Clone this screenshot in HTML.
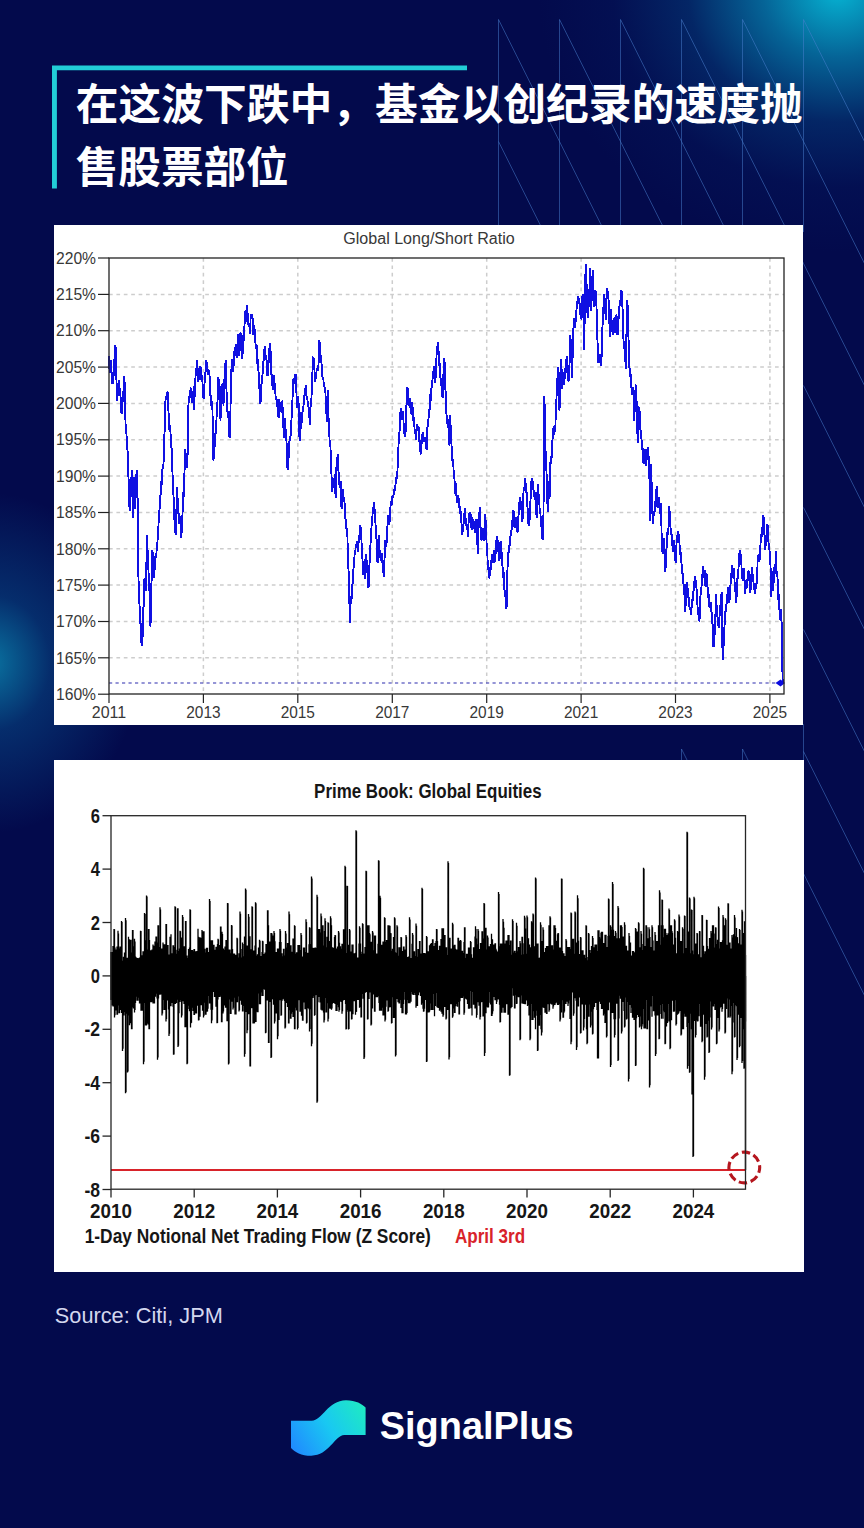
<!DOCTYPE html>
<html><head><meta charset="utf-8"><title>SignalPlus</title>
<style>
html,body{margin:0;padding:0}
body{width:864px;height:1528px;overflow:hidden;position:relative;background:#030a4c;font-family:"Liberation Sans",sans-serif}
.bg{position:absolute;left:0;top:0;width:864px;height:1528px;
background:
 radial-gradient(ellipse 300px 260px at 838px -8px, rgba(6,178,210,1) 0%, rgba(6,135,180,0.72) 25%, rgba(5,80,140,0.4) 50%, rgba(4,40,110,0.18) 75%, rgba(3,10,76,0) 100%),
 radial-gradient(ellipse 150px 170px at -10px 663px, rgba(10,120,165,0.95) 0%, rgba(8,80,140,0.5) 40%, rgba(3,10,76,0) 100%),
 #030a4c;}
.panel{position:absolute;background:#fff}
#p1{left:54px;top:225px;width:749px;height:500px}
#p2{left:54px;top:760px;width:750px;height:512px}
svg{position:absolute;left:0;top:0}

</style></head><body>
<div class="bg"></div>
<svg width="864" height="1528" viewBox="0 0 864 1528"><path d="M498.5 19.5V232M498.5 19.5l61 122M498.5 141.5l61 122M559.5 19.5V232M559.5 19.5l61 122M559.5 141.5l61 122M620.5 19.5V232M620.5 19.5l61 122M620.5 141.5l61 122M681.5 19.5V232M681.5 19.5l61 122M681.5 141.5l61 122M742.5 19.5V232M742.5 19.5l61 122M742.5 141.5l61 122M803.5 19.5V232M803.5 724V762M803.5 19.5l61 122M803.5 141.5l61 122M803.5 263.5l61 122M803.5 385.5l61 122M803.5 507.5l61 122M803.5 629.5l61 122M803.5 751.5l61 122M803.5 873.5l61 122M681.5 749V764M681.5 749l8 16M742.5 749V764M742.5 749l8 16" fill="none" stroke="#4a7fd0" stroke-opacity="0.5" stroke-width="1"/></svg>
<svg width="864" height="230" viewBox="0 0 864 230">
<path d="M52 65.4H467V70.3H56.9V188.5H52Z" fill="#22cdd6"/>
<g fill="#fff" style="font-family:'Liberation Sans','Noto Sans CJK SC',sans-serif;font-weight:bold">
<text x="75.7" y="119.9" font-size="42.8" textLength="727" lengthAdjust="spacingAndGlyphs">在这波下跌中，基金以创纪录的速度抛</text>
<text x="75.7" y="183.3" font-size="42.8" textLength="213" lengthAdjust="spacingAndGlyphs">售股票部位</text>
</g>
</svg>
<div class="panel" id="p1"></div>
<div class="panel" id="p2"></div>
<svg width="864" height="740" viewBox="0 0 864 740" style="font-family:'Liberation Sans',sans-serif">
<line x1="109" x2="784" y1="657.8" y2="657.8" stroke="#cdcdcd" stroke-width="1.5" stroke-dasharray="3.7 3.7"/>
<line x1="109" x2="784" y1="621.5" y2="621.5" stroke="#cdcdcd" stroke-width="1.5" stroke-dasharray="3.7 3.7"/>
<line x1="109" x2="784" y1="585.1" y2="585.1" stroke="#cdcdcd" stroke-width="1.5" stroke-dasharray="3.7 3.7"/>
<line x1="109" x2="784" y1="548.8" y2="548.8" stroke="#cdcdcd" stroke-width="1.5" stroke-dasharray="3.7 3.7"/>
<line x1="109" x2="784" y1="512.5" y2="512.5" stroke="#cdcdcd" stroke-width="1.5" stroke-dasharray="3.7 3.7"/>
<line x1="109" x2="784" y1="476.1" y2="476.1" stroke="#cdcdcd" stroke-width="1.5" stroke-dasharray="3.7 3.7"/>
<line x1="109" x2="784" y1="439.8" y2="439.8" stroke="#cdcdcd" stroke-width="1.5" stroke-dasharray="3.7 3.7"/>
<line x1="109" x2="784" y1="403.4" y2="403.4" stroke="#cdcdcd" stroke-width="1.5" stroke-dasharray="3.7 3.7"/>
<line x1="109" x2="784" y1="367.1" y2="367.1" stroke="#cdcdcd" stroke-width="1.5" stroke-dasharray="3.7 3.7"/>
<line x1="109" x2="784" y1="330.7" y2="330.7" stroke="#cdcdcd" stroke-width="1.5" stroke-dasharray="3.7 3.7"/>
<line x1="109" x2="784" y1="294.4" y2="294.4" stroke="#cdcdcd" stroke-width="1.5" stroke-dasharray="3.7 3.7"/>
<line x1="203.4" x2="203.4" y1="258" y2="694" stroke="#cdcdcd" stroke-width="1.5" stroke-dasharray="3.7 3.7"/>
<line x1="297.8" x2="297.8" y1="258" y2="694" stroke="#cdcdcd" stroke-width="1.5" stroke-dasharray="3.7 3.7"/>
<line x1="392.3" x2="392.3" y1="258" y2="694" stroke="#cdcdcd" stroke-width="1.5" stroke-dasharray="3.7 3.7"/>
<line x1="486.7" x2="486.7" y1="258" y2="694" stroke="#cdcdcd" stroke-width="1.5" stroke-dasharray="3.7 3.7"/>
<line x1="581.1" x2="581.1" y1="258" y2="694" stroke="#cdcdcd" stroke-width="1.5" stroke-dasharray="3.7 3.7"/>
<line x1="675.5" x2="675.5" y1="258" y2="694" stroke="#cdcdcd" stroke-width="1.5" stroke-dasharray="3.7 3.7"/>
<line x1="769.9" x2="769.9" y1="258" y2="694" stroke="#cdcdcd" stroke-width="1.5" stroke-dasharray="3.7 3.7"/>
<line x1="109" x2="776" y1="683" y2="683" stroke="#2c2cae" stroke-width="1.1" stroke-dasharray="3.2 3.3"/>
<path d="M108.6,355.9 108.9,359.4 109.2,366.2 109.4,368.1 109.7,373.2 110.0,368.9 110.3,363.6 110.5,362.8 110.8,360.2 111.1,367.9 111.4,369.5 111.7,375.5 111.9,376.9 112.2,381.3 112.5,384.0 112.8,381.6 113.1,372.4 113.4,377.7 113.7,373.6 114.0,368.9 114.3,365.8 114.6,353.8 114.9,348.9 115.2,346.9 115.5,345.1 115.9,357.6 116.2,373.2 116.5,381.2 116.7,387.1 117.0,396.0 117.3,401.3 117.6,395.5 117.9,395.1 118.1,391.8 118.4,384.7 118.7,388.9 119.0,379.7 119.3,385.0 119.6,390.5 119.9,388.0 120.2,391.0 120.5,396.9 120.8,400.1 121.1,405.2 121.3,412.0 121.6,414.2 121.9,411.8 122.2,406.3 122.5,401.3 122.7,399.5 123.0,402.0 123.3,394.8 123.6,387.5 123.9,386.4 124.1,382.4 124.4,376.4 124.7,386.1 125.0,405.6 125.3,413.7 125.6,425.7 125.9,429.3 126.2,426.3 126.5,435.5 126.8,439.8 127.1,441.0 127.4,449.0 127.6,450.9 127.9,458.3 128.2,461.2 128.4,476.3 128.7,481.2 129.0,490.9 129.3,499.4 129.5,508.6 129.8,511.4 130.1,507.2 130.3,501.0 130.6,490.9 130.9,489.8 131.1,487.0 131.4,478.1 131.7,473.7 132.0,470.4 132.2,482.0 132.5,498.8 132.8,517.9 133.1,505.9 133.5,501.6 133.8,480.4 134.1,476.8 134.4,482.8 134.7,499.2 135.0,509.2 135.3,506.4 135.6,496.0 136.0,480.3 136.3,479.0 136.6,470.0 136.9,478.7 137.1,476.8 137.4,490.2 137.7,504.8 138.0,524.3 138.2,552.4 138.4,574.0 138.7,586.3 139.0,591.8 139.3,599.9 139.6,606.7 139.9,613.2 140.3,623.0 140.6,623.7 140.9,631.4 141.1,636.7 141.4,642.5 141.7,646.3 141.9,637.7 142.2,643.6 142.5,639.0 142.8,632.3 143.0,626.0 143.3,609.6 143.6,605.9 143.8,599.9 144.1,595.5 144.4,579.5 144.7,578.3 145.0,581.0 145.2,588.2 145.5,583.7 145.8,591.3 146.1,582.6 146.4,565.0 146.8,548.7 147.1,535.1 147.4,543.4 147.6,551.7 147.9,556.7 148.3,564.1 148.6,574.5 148.9,575.6 149.2,584.8 149.6,594.0 149.9,609.3 150.2,616.5 150.5,626.9 150.8,610.0 151.1,602.0 151.4,584.8 151.7,578.1 152.0,560.3 152.3,550.3 152.6,552.7 152.9,563.8 153.2,570.8 153.6,578.3 153.9,574.3 154.2,576.9 154.5,565.9 154.8,570.4 155.1,563.2 155.4,556.4 155.7,555.4 156.0,557.5 156.3,556.6 156.6,550.3 156.9,549.9 157.2,544.9 157.5,541.0 157.9,537.3 158.2,532.0 158.4,527.7 158.7,520.0 159.1,514.6 159.4,511.2 159.7,507.3 160.0,500.6 160.4,495.7 160.7,493.4 161.0,487.9 161.3,481.2 161.6,484.6 162.0,475.7 162.3,470.0 162.6,468.2 162.9,464.8 163.2,463.8 163.4,464.8 163.7,459.6 164.0,447.7 164.3,438.0 164.6,430.6 164.9,426.8 165.2,412.1 165.5,399.3 165.9,399.7 166.2,399.9 166.5,394.8 166.8,395.6 167.2,394.5 167.5,391.7 167.8,392.6 168.1,402.7 168.4,409.4 168.7,416.4 169.0,417.4 169.3,429.8 169.6,425.6 170.0,427.2 170.3,429.1 170.6,434.4 170.9,437.8 171.3,442.3 171.5,449.3 171.8,447.7 172.1,463.9 172.4,469.8 172.8,482.3 173.1,482.7 173.4,494.1 173.7,500.4 174.0,510.2 174.2,516.4 174.5,520.0 174.8,528.7 175.0,522.0 175.3,530.2 175.6,535.1 175.9,523.8 176.2,516.7 176.5,508.0 176.9,494.1 177.2,486.7 177.4,500.6 177.7,498.4 178.1,500.1 178.4,513.6 178.7,512.9 179.0,524.3 179.4,522.8 179.7,524.0 180.0,517.4 180.3,515.7 180.6,523.9 180.9,533.5 181.2,538.4 181.5,534.2 181.8,528.7 182.1,524.3 182.3,520.8 182.6,510.5 182.9,498.4 183.2,492.1 183.6,496.6 183.9,478.5 184.2,476.8 184.5,472.8 184.8,461.9 185.0,456.2 185.3,448.8 185.6,453.8 185.8,454.9 186.1,459.0 186.4,459.6 186.7,457.4 187.0,460.3 187.2,468.2 187.5,458.7 187.8,442.0 188.1,433.6 188.3,415.1 188.5,403.4 188.9,396.4 189.2,403.3 189.5,399.4 189.8,394.8 190.2,398.0 190.5,388.4 190.8,389.9 191.1,388.3 191.4,387.8 191.8,397.3 192.1,403.3 192.4,401.3 192.7,394.5 193.1,398.9 193.4,393.2 193.7,386.1 193.9,397.4 194.1,409.9 194.4,394.8 194.7,397.3 195.0,384.0 195.3,379.9 195.7,374.4 196.0,374.0 196.3,368.9 196.6,367.3 196.9,368.1 197.2,360.2 197.5,363.3 197.7,376.9 198.0,379.7 198.4,381.9 198.7,379.1 199.0,371.0 199.3,368.9 199.7,365.9 200.0,371.2 200.3,367.6 200.6,366.7 200.9,371.4 201.2,380.0 201.5,379.7 201.8,380.4 202.1,375.3 202.5,383.2 202.8,386.1 203.1,384.3 203.4,397.5 203.6,399.1 204.0,394.7 204.3,386.3 204.6,382.9 204.9,377.5 205.3,375.9 205.6,369.1 205.9,368.9 206.2,360.2 206.6,362.2 206.9,368.0 207.2,371.6 207.5,368.9 207.9,375.3 208.2,368.8 208.5,375.0 208.8,373.2 209.2,370.2 209.5,376.1 209.8,376.4 210.1,386.1 210.4,396.1 210.7,395.0 211.0,405.6 211.3,404.5 211.6,402.8 212.0,402.2 212.3,401.3 212.6,418.0 212.9,439.5 213.2,457.4 213.5,460.6 213.8,452.1 214.1,451.1 214.4,446.6 214.8,446.7 215.1,439.5 215.4,432.7 215.7,433.6 216.0,426.1 216.3,425.7 216.6,416.4 216.9,405.9 217.2,404.3 217.5,401.3 217.8,396.7 218.0,388.0 218.3,377.5 218.7,379.7 219.0,384.5 219.3,384.5 219.6,386.1 219.9,393.8 220.2,404.0 220.5,420.7 220.8,409.9 221.1,406.5 221.4,394.8 221.7,390.2 222.0,386.4 222.3,384.1 222.7,384.0 222.9,386.1 223.2,398.0 223.5,405.6 223.8,394.7 224.2,392.7 224.5,376.7 224.8,377.5 225.1,372.8 225.4,363.9 225.7,360.2 226.0,363.9 226.3,382.8 226.5,390.5 226.8,396.8 227.1,397.5 227.4,412.1 227.7,411.3 228.1,417.3 228.4,417.0 228.7,420.7 229.0,429.0 229.3,434.7 229.6,438.0 229.8,433.0 230.1,424.7 230.4,416.4 230.6,401.3 230.9,377.5 231.1,375.4 231.4,370.4 231.7,364.5 232.0,358.8 232.4,369.7 232.7,372.1 233.0,368.9 233.3,364.6 233.7,360.8 234.0,365.6 234.3,355.9 234.6,347.4 235.0,352.1 235.3,355.8 235.6,345.1 235.9,344.2 236.3,351.7 236.6,357.8 236.9,353.8 237.2,348.5 237.6,345.9 237.9,342.2 238.2,334.3 238.5,341.9 238.8,355.5 239.1,352.3 239.4,350.7 239.7,346.8 240.0,344.5 240.3,336.6 240.5,331.7 240.8,337.5 241.1,341.3 241.4,351.1 241.7,352.1 242.0,358.4 242.3,357.6 242.6,352.9 242.9,344.7 243.1,342.5 243.4,334.7 243.7,341.2 244.0,327.4 244.3,328.3 244.6,323.7 244.9,318.8 245.2,310.9 245.4,322.2 245.7,320.9 246.0,317.3 246.3,316.1 246.6,305.4 246.9,310.5 247.2,312.6 247.5,316.6 247.8,319.9 248.1,313.4 248.4,324.9 248.8,323.1 249.1,326.3 249.4,325.1 249.7,333.9 250.0,331.7 250.3,332.6 250.6,317.0 250.9,316.6 251.2,313.9 251.6,316.5 251.9,315.6 252.2,314.4 252.5,317.4 252.8,319.9 253.1,327.4 253.4,334.9 253.7,331.9 254.0,325.1 254.4,329.5 254.7,328.7 254.9,342.4 255.2,340.3 255.6,344.7 255.9,348.5 256.2,346.3 256.5,344.7 256.8,348.3 257.1,358.5 257.4,364.1 257.7,359.1 258.0,365.9 258.4,370.4 258.7,372.7 259.0,380.2 259.3,381.9 259.5,390.0 259.8,394.3 260.1,400.9 260.4,404.0 260.7,399.2 261.0,393.9 261.3,385.7 261.6,383.5 261.9,378.9 262.1,377.1 262.4,376.8 262.7,371.5 263.0,368.4 263.3,362.8 263.6,360.6 263.9,359.8 264.2,355.1 264.4,350.1 264.7,345.7 265.0,349.5 265.3,352.2 265.6,355.5 265.9,357.5 266.2,357.9 266.5,359.8 266.7,360.7 267.0,371.2 267.3,374.9 267.6,376.2 267.9,372.0 268.2,368.4 268.5,363.5 268.8,361.3 269.1,355.5 269.4,349.3 269.7,343.3 270.0,346.8 270.3,343.6 270.6,351.9 270.8,366.3 271.1,373.7 271.4,372.8 271.6,381.4 272.0,373.8 272.3,380.1 272.6,389.8 272.9,385.7 273.3,382.0 273.6,376.3 273.9,375.9 274.2,376.0 274.5,382.4 274.8,387.0 275.1,390.0 275.4,392.8 275.7,399.2 276.1,398.8 276.4,398.6 276.7,399.7 277.0,402.8 277.4,407.3 277.7,403.0 278.0,411.2 278.3,416.4 278.6,418.1 278.8,408.0 279.1,404.6 279.4,398.6 279.7,404.3 280.1,404.1 280.4,411.9 280.7,411.6 281.0,410.0 281.3,407.4 281.6,400.8 281.9,401.7 282.2,412.5 282.5,409.8 282.9,407.3 283.2,415.9 283.4,426.3 283.7,435.4 284.0,438.2 284.3,422.7 284.6,418.1 284.9,424.7 285.2,428.9 285.6,429.4 285.9,433.2 286.2,433.7 286.5,442.5 286.8,446.2 287.0,455.3 287.3,465.7 287.6,469.9 287.9,468.9 288.2,462.8 288.5,459.1 288.8,456.2 289.1,449.4 289.3,441.8 289.7,440.9 290.0,438.8 290.3,436.2 290.6,435.4 290.9,432.6 291.2,421.8 291.5,420.2 291.8,412.4 292.1,408.7 292.4,403.0 292.7,392.4 292.9,390.0 293.2,385.7 293.5,378.3 293.8,382.0 294.1,383.5 294.4,383.0 294.7,380.5 295.1,376.1 295.4,373.8 295.7,375.6 296.0,374.2 296.3,381.4 296.5,396.0 296.8,400.4 297.1,407.3 297.4,407.3 297.7,397.2 298.0,396.5 298.3,402.4 298.6,403.4 298.9,415.9 299.1,426.8 299.4,435.6 299.7,440.8 300.0,424.8 300.3,421.2 300.6,411.6 300.9,419.4 301.2,417.3 301.4,428.9 301.7,418.5 302.0,416.7 302.3,415.9 302.6,411.7 302.9,407.0 303.2,409.4 303.5,406.0 303.7,403.1 304.0,398.6 304.3,397.1 304.6,393.8 304.9,387.9 305.2,392.1 305.5,390.3 305.8,385.7 306.0,385.7 306.3,392.7 306.6,398.6 306.9,396.2 307.3,397.3 307.6,401.6 307.9,403.0 308.2,404.4 308.5,407.5 308.8,407.3 309.1,407.8 309.4,414.7 309.6,424.6 309.9,418.7 310.2,412.4 310.5,407.3 310.8,404.1 311.1,402.8 311.4,400.8 311.7,390.4 312.0,387.3 312.2,377.1 312.5,371.7 312.8,363.8 313.1,357.6 313.4,356.8 313.7,359.9 314.0,361.9 314.3,359.4 314.5,371.7 314.8,381.4 315.1,380.8 315.4,375.0 315.7,379.2 316.0,377.7 316.3,375.4 316.7,368.2 317.0,370.6 317.3,369.2 317.6,368.5 318.0,370.5 318.3,368.4 318.6,361.8 318.9,351.0 319.1,342.5 319.4,340.4 319.7,343.5 320.0,344.7 320.3,348.8 320.6,355.7 320.9,357.6 321.2,362.2 321.5,362.4 321.7,368.4 322.0,367.5 322.3,374.4 322.6,379.2 322.9,377.9 323.3,377.7 323.6,382.1 323.9,383.5 324.2,383.5 324.5,387.1 324.9,390.1 325.2,390.0 325.5,393.0 325.8,406.3 326.1,403.0 326.3,408.4 326.6,419.6 326.9,422.4 327.2,412.0 327.5,404.5 327.8,390.0 328.1,392.2 328.4,407.7 328.6,420.2 328.9,426.8 329.2,433.7 329.5,437.5 329.8,447.4 330.1,442.9 330.4,444.0 330.7,454.7 331.0,459.5 331.2,463.4 331.5,475.9 331.8,483.8 332.1,491.5 332.4,486.7 332.7,484.5 333.0,478.5 333.3,477.9 333.5,488.2 333.8,487.2 334.1,479.5 334.4,479.4 334.7,474.2 335.0,489.1 335.3,489.3 335.6,498.0 335.8,488.0 336.1,481.7 336.4,467.7 336.7,464.3 337.1,458.1 337.4,458.1 337.7,453.7 338.0,461.8 338.3,468.3 338.6,472.1 338.9,473.1 339.2,485.0 339.4,482.9 339.8,487.8 340.1,481.8 340.4,482.1 340.7,480.7 341.0,488.6 341.3,504.1 341.6,508.8 341.9,501.6 342.3,501.3 342.6,492.6 342.9,489.3 343.2,489.2 343.5,496.0 343.9,500.2 344.2,498.0 344.5,502.3 344.8,504.4 345.1,510.9 345.3,517.9 345.6,519.4 345.9,523.9 346.2,526.0 346.6,531.1 346.9,530.9 347.2,528.2 347.5,538.0 347.8,558.8 348.1,562.8 348.4,567.1 348.7,574.0 348.9,575.7 349.2,589.4 349.5,607.2 349.8,623.2 350.1,608.8 350.4,611.8 350.7,597.3 351.0,603.3 351.3,596.2 351.5,601.6 351.8,590.9 352.1,584.8 352.4,584.4 352.7,583.9 353.0,574.2 353.3,571.4 353.6,566.9 353.8,561.7 354.1,558.4 354.5,556.4 354.8,551.6 355.1,553.7 355.4,552.0 355.7,544.5 356.1,546.3 356.4,544.9 356.7,541.2 357.0,545.4 357.4,545.8 357.7,546.3 358.0,552.0 358.3,548.2 358.6,541.7 358.9,539.0 359.2,540.7 359.5,534.5 359.9,528.1 360.2,525.0 360.5,526.7 360.8,529.1 361.0,534.7 361.3,536.6 361.6,543.6 361.9,549.8 362.2,555.1 362.5,560.1 362.8,562.8 363.1,567.5 363.3,575.4 363.6,571.4 364.0,568.5 364.3,570.4 364.6,578.8 364.9,569.2 365.3,559.3 365.6,560.0 365.9,558.5 366.2,554.1 366.5,559.0 366.8,564.1 367.1,567.1 367.4,571.4 367.7,578.5 368.1,582.6 368.4,587.6 368.7,585.5 369.0,572.0 369.2,573.6 369.5,564.2 369.8,560.6 370.1,554.1 370.4,545.7 370.7,540.6 371.0,539.0 371.3,536.0 371.5,526.8 371.8,523.9 372.1,521.7 372.4,517.7 372.7,510.9 373.0,510.1 373.3,508.8 373.7,504.9 374.0,503.4 374.3,502.0 374.6,509.8 374.9,513.1 375.1,519.6 375.4,521.4 375.7,528.2 376.0,531.5 376.3,537.9 376.6,539.0 376.9,544.0 377.2,557.0 377.5,562.8 377.8,561.9 378.1,546.9 378.4,542.2 378.7,534.7 379.0,539.2 379.3,549.8 379.6,549.8 379.9,553.5 380.3,558.2 380.6,555.6 380.9,560.6 381.2,560.1 381.6,559.6 381.9,553.3 382.2,563.4 382.5,558.2 382.8,565.8 383.2,561.6 383.5,574.4 383.8,576.6 384.1,568.6 384.4,562.9 384.7,553.9 385.0,550.8 385.3,540.3 385.5,540.9 385.9,540.8 386.2,546.9 386.5,540.7 386.8,543.1 387.2,532.7 387.5,524.6 387.8,518.0 388.1,515.0 388.5,518.3 388.8,524.9 389.1,522.9 389.4,523.7 389.8,519.6 390.1,521.3 390.4,507.4 390.7,504.2 391.1,501.5 391.4,504.9 391.7,504.4 392.0,502.1 392.3,497.1 392.7,495.0 393.0,498.2 393.3,495.6 393.6,495.3 394.0,489.1 394.3,491.7 394.6,491.3 394.9,486.8 395.3,487.4 395.6,482.8 395.9,480.5 396.2,478.6 396.6,476.1 396.9,479.1 397.2,474.0 397.5,470.7 397.8,456.9 398.1,450.2 398.4,448.7 398.7,439.1 399.0,437.5 399.4,433.0 399.7,429.7 399.9,426.4 400.2,415.7 400.5,411.9 400.8,410.4 401.1,408.1 401.4,412.7 401.7,411.1 402.0,420.0 402.2,417.2 402.5,412.0 402.8,411.4 403.1,417.6 403.4,417.7 403.7,426.5 404.0,422.7 404.3,432.0 404.7,435.4 405.0,437.3 405.3,431.2 405.6,431.6 405.8,424.3 406.1,415.5 406.4,406.5 406.7,400.6 407.0,398.2 407.3,387.5 407.6,388.7 407.9,391.9 408.1,399.4 408.4,404.9 408.8,406.1 409.1,401.1 409.4,401.1 409.7,398.4 410.1,399.5 410.4,405.9 410.7,413.6 411.0,411.4 411.4,407.0 411.7,414.9 412.0,402.8 412.3,402.7 412.6,407.1 412.9,411.9 413.2,415.7 413.5,422.3 413.8,418.1 414.2,418.5 414.5,428.6 414.8,431.7 415.1,433.4 415.5,433.9 415.8,433.0 416.1,439.5 416.4,429.3 416.8,427.3 417.1,424.3 417.4,427.9 417.7,426.6 418.0,431.4 418.4,426.5 418.7,427.4 418.9,435.3 419.2,441.6 419.5,435.8 419.8,450.8 420.1,451.3 420.4,448.7 420.7,451.7 421.1,454.4 421.4,445.9 421.7,442.7 422.0,438.6 422.4,434.6 422.7,433.0 423.0,432.4 423.3,435.2 423.7,441.6 424.0,441.6 424.3,440.6 424.6,439.7 425.0,437.8 425.3,437.3 425.6,443.5 425.9,445.4 426.3,446.5 426.6,450.2 426.9,445.2 427.2,435.3 427.4,428.6 427.8,421.6 428.1,427.0 428.4,420.5 428.7,415.7 429.1,409.3 429.4,412.8 429.7,407.1 430.0,402.7 430.4,393.8 430.7,400.5 431.0,392.5 431.3,387.6 431.6,388.4 432.0,384.0 432.3,380.6 432.6,379.0 432.9,370.6 433.3,375.7 433.6,369.4 433.9,366.0 434.2,369.4 434.6,375.8 434.9,379.2 435.2,383.3 435.5,379.1 435.9,369.1 436.2,363.7 436.5,357.4 436.8,346.4 437.2,348.2 437.5,348.0 437.8,341.8 438.1,350.0 438.4,348.1 438.7,353.1 439.0,356.5 439.3,365.9 439.6,363.3 440.0,368.2 440.3,373.8 440.6,380.2 440.9,378.0 441.3,381.1 441.6,389.5 441.9,387.4 442.2,394.8 442.6,398.4 442.8,390.2 443.1,383.0 443.4,374.7 443.7,373.0 444.0,371.8 444.3,358.5 444.6,362.4 444.9,368.8 445.1,376.8 445.4,388.5 445.7,393.5 446.0,407.1 446.3,412.5 446.7,416.5 447.0,417.5 447.3,422.2 447.6,425.0 448.0,419.2 448.3,427.9 448.6,426.5 448.9,427.9 449.2,437.1 449.5,445.9 449.8,433.7 450.0,423.7 450.3,414.6 450.6,426.4 450.9,432.9 451.2,441.6 451.5,443.9 451.8,450.6 452.1,452.4 452.4,460.9 452.7,458.9 453.0,463.3 453.4,465.4 453.7,473.8 454.0,474.9 454.3,474.1 454.6,482.6 455.0,493.0 455.3,494.2 455.6,482.6 455.9,491.3 456.3,493.8 456.6,498.0 456.9,502.6 457.2,502.1 457.6,503.2 457.9,499.0 458.2,495.4 458.5,497.7 458.9,501.3 459.2,507.6 459.5,503.9 459.8,510.7 460.2,509.5 460.5,514.9 460.8,510.8 461.1,519.3 461.4,522.3 461.8,525.5 462.1,532.2 462.4,534.5 462.7,529.4 463.1,526.1 463.4,525.1 463.7,523.7 464.0,519.7 464.4,513.9 464.7,512.4 465.0,508.5 465.3,514.8 465.7,520.0 466.0,525.5 466.3,523.7 466.6,523.8 467.0,527.7 467.3,523.6 467.6,534.5 467.9,536.9 468.3,524.5 468.6,523.0 468.9,519.3 469.2,519.4 469.5,511.6 469.9,516.0 470.2,512.9 470.5,516.6 470.8,514.4 471.2,525.2 471.5,528.0 471.8,529.8 472.1,517.5 472.5,524.2 472.8,519.3 473.1,520.6 473.4,522.0 473.8,522.4 474.1,521.5 474.4,528.5 474.7,526.2 475.1,532.5 475.4,532.3 475.7,527.7 476.0,528.2 476.3,519.9 476.7,519.3 477.0,527.6 477.3,542.3 477.6,546.7 478.0,553.9 478.3,543.3 478.5,530.0 478.8,523.7 479.1,515.7 479.4,513.5 479.7,507.5 480.0,517.4 480.3,522.5 480.6,528.0 480.9,532.4 481.2,533.2 481.5,540.5 481.9,538.8 482.2,534.8 482.5,531.6 482.8,533.6 483.2,528.0 483.5,531.4 483.8,533.5 484.1,535.8 484.4,540.9 484.7,531.1 485.0,525.0 485.3,513.9 485.6,521.2 485.9,522.2 486.2,532.3 486.5,540.9 486.7,547.3 487.0,553.9 487.4,554.4 487.7,564.0 488.0,564.3 488.3,569.0 488.6,570.4 488.9,576.7 489.2,576.6 489.5,578.5 489.8,569.4 490.2,570.7 490.5,566.8 490.8,561.8 491.1,570.2 491.5,558.7 491.8,558.2 492.1,561.1 492.4,553.9 492.8,557.6 493.1,553.9 493.4,563.4 493.7,549.8 494.1,558.9 494.4,562.5 494.7,560.9 495.0,555.7 495.4,550.6 495.7,549.6 496.0,554.0 496.3,544.4 496.6,536.0 497.0,538.8 497.3,544.8 497.6,539.6 497.9,552.3 498.3,551.7 498.6,551.4 498.9,555.4 499.2,560.8 499.6,558.2 499.9,554.8 500.2,546.1 500.5,541.3 500.9,543.1 501.2,550.8 501.5,553.1 501.8,551.7 502.2,558.2 502.4,565.4 502.7,568.5 503.0,571.2 503.3,577.6 503.6,572.4 503.9,584.1 504.2,584.7 504.5,590.3 504.9,591.4 505.2,590.6 505.5,598.1 505.8,591.7 506.1,604.9 506.5,609.0 506.8,599.4 507.0,595.1 507.3,575.5 507.6,565.1 507.9,560.0 508.2,553.9 508.5,551.9 508.8,552.5 509.2,546.0 509.5,545.3 509.8,545.8 510.1,536.2 510.5,536.4 510.8,532.3 511.1,530.0 511.4,531.7 511.8,528.4 512.1,530.1 512.4,519.7 512.7,523.5 513.1,515.8 513.4,509.6 513.7,512.4 514.0,519.5 514.4,526.7 514.7,528.0 515.0,522.1 515.3,522.2 515.6,521.7 516.0,517.2 516.3,522.7 516.6,523.6 516.9,521.6 517.3,532.3 517.6,532.1 517.9,524.7 518.2,519.4 518.6,515.0 518.9,509.8 519.2,507.3 519.5,500.7 519.9,497.7 520.2,497.1 520.5,500.7 520.8,503.9 521.2,508.5 521.5,509.8 521.8,511.2 522.1,520.4 522.5,521.5 522.8,509.1 523.1,507.5 523.4,493.9 523.7,489.1 524.1,487.6 524.4,488.2 524.7,481.7 525.0,478.3 525.4,479.7 525.7,486.0 526.0,490.1 526.3,493.4 526.7,491.8 527.0,499.7 527.3,506.4 527.6,508.4 528.0,514.1 528.2,518.3 528.5,524.5 528.8,526.0 529.1,524.5 529.5,520.9 529.8,515.8 530.1,509.8 530.4,501.8 530.8,495.7 531.1,487.9 531.4,481.7 531.7,481.2 532.1,482.2 532.4,477.7 532.7,483.9 533.0,486.0 533.4,490.3 533.7,490.4 534.0,496.8 534.3,495.7 534.7,496.4 535.0,493.1 535.3,492.5 535.6,505.9 535.9,496.9 536.3,511.3 536.6,518.4 536.9,503.1 537.2,503.0 537.5,490.4 537.8,500.2 538.1,484.3 538.4,494.0 538.8,494.7 539.1,501.3 539.4,503.4 539.7,511.1 540.0,514.1 540.4,509.4 540.7,522.3 541.0,523.4 541.3,524.9 541.7,528.8 542.0,530.5 542.3,538.4 542.6,540.0 542.9,529.8 543.2,523.5 543.5,514.1 543.7,480.0 543.9,449.3 544.2,415.5 544.4,396.4 544.7,411.1 544.9,426.6 545.2,440.7 545.5,450.4 545.8,452.2 546.1,462.3 546.4,468.7 546.7,477.3 547.0,481.7 547.2,492.3 547.5,506.0 547.8,512.0 548.1,508.5 548.4,488.8 548.7,481.7 549.0,481.2 549.3,496.1 549.5,499.0 549.8,491.8 550.1,477.6 550.4,462.3 550.7,463.9 551.1,458.1 551.4,456.7 551.7,458.0 552.0,454.4 552.3,442.0 552.6,438.5 552.9,429.3 553.2,428.8 553.5,437.1 553.9,425.6 554.2,433.6 554.5,426.6 554.8,428.0 555.2,432.1 555.5,424.2 555.7,412.3 556.0,406.2 556.3,404.7 556.6,394.4 556.9,388.9 557.2,378.1 557.5,378.8 557.8,367.3 558.0,374.0 558.3,385.3 558.6,393.2 558.9,398.9 559.2,403.7 559.5,410.5 559.8,400.7 560.1,386.6 560.3,378.1 560.6,366.2 560.9,359.3 561.2,360.8 561.5,366.0 561.8,377.0 562.1,388.9 562.4,383.0 562.6,377.5 562.9,371.6 563.3,376.7 563.6,378.5 563.9,378.7 564.2,384.6 564.6,377.9 564.9,368.9 565.2,371.0 565.5,367.3 565.9,366.2 566.2,363.6 566.5,358.8 566.8,356.5 567.1,362.4 567.4,372.5 567.7,375.9 568.0,377.1 568.3,380.5 568.7,381.1 569.0,380.2 569.3,369.6 569.6,361.9 570.0,344.3 570.3,334.9 570.6,340.2 570.9,345.2 571.1,354.3 571.4,359.6 571.7,375.3 572.0,378.1 572.3,373.1 572.6,356.6 572.9,345.7 573.2,338.2 573.4,330.9 573.7,317.6 574.1,323.0 574.4,327.0 574.7,321.6 575.0,328.4 575.4,322.0 575.7,321.3 576.0,320.2 576.3,311.1 576.6,308.8 577.0,302.9 577.3,301.9 577.6,300.3 577.9,297.6 578.3,296.4 578.6,303.7 578.9,298.2 579.2,298.8 579.6,303.7 579.9,313.4 580.2,309.0 580.5,315.6 580.9,315.5 581.2,315.1 581.5,319.8 581.8,313.2 582.1,309.3 582.4,296.0 582.7,297.4 582.9,298.8 583.2,293.9 583.5,312.9 583.8,333.0 584.1,350.0 584.4,332.1 584.7,316.9 585.0,298.2 585.3,291.0 585.5,270.4 585.8,263.6 586.1,271.3 586.4,280.3 586.7,287.4 587.0,295.6 587.3,306.5 587.6,317.6 587.8,310.9 588.1,305.5 588.4,289.5 588.7,297.4 589.0,302.1 589.3,306.8 589.6,288.7 589.9,287.3 590.1,268.0 590.4,282.6 590.7,296.6 591.0,311.1 591.3,301.7 591.6,299.4 591.9,293.9 592.2,282.3 592.4,278.3 592.7,270.1 593.0,283.9 593.3,294.7 593.6,306.8 593.9,304.5 594.2,297.5 594.6,301.8 594.9,293.9 595.2,292.8 595.5,290.0 595.9,296.5 596.2,298.2 596.5,306.5 596.8,316.4 597.1,330.6 597.4,337.5 597.7,347.7 598.0,351.0 598.4,363.0 598.7,360.4 599.0,363.4 599.3,358.7 599.6,354.3 600.0,356.8 600.3,360.7 600.6,362.8 600.9,366.2 601.3,359.8 601.6,356.2 601.9,347.3 602.2,341.4 602.5,324.8 602.8,324.0 603.1,315.5 603.4,307.1 603.7,306.8 604.1,297.3 604.4,293.9 604.7,300.8 605.0,314.0 605.4,309.8 605.7,319.8 606.0,308.9 606.3,300.7 606.6,298.2 606.9,288.4 607.2,288.2 607.5,293.7 607.9,290.6 608.1,293.2 608.4,293.8 608.7,304.7 609.0,307.9 609.4,322.9 609.7,326.4 610.0,337.1 610.3,328.8 610.7,324.1 611.0,320.5 611.3,309.0 611.6,321.9 612.0,325.3 612.3,328.9 612.6,334.9 612.9,331.2 613.3,332.2 613.6,326.7 613.9,317.6 614.2,320.4 614.5,326.7 614.9,329.9 615.2,332.7 615.5,328.6 615.8,322.4 616.2,315.4 616.5,315.5 616.8,320.2 617.1,323.3 617.4,334.9 617.7,334.6 618.0,328.0 618.3,318.0 618.6,317.6 619.0,318.4 619.3,313.0 619.6,300.0 619.9,302.5 620.3,305.6 620.6,299.2 620.9,300.4 621.2,290.6 621.6,290.6 621.9,300.5 622.2,304.2 622.5,306.8 622.8,317.6 623.1,327.5 623.4,337.1 623.7,345.4 624.0,341.8 624.4,347.5 624.7,356.5 625.0,355.1 625.3,361.1 625.7,364.2 626.0,369.4 626.3,347.6 626.6,324.3 626.9,300.3 627.1,302.6 627.4,302.4 627.7,306.8 628.0,316.9 628.3,333.0 628.6,341.4 628.9,352.5 629.2,359.0 629.4,367.3 629.8,368.4 630.1,376.7 630.4,371.8 630.7,375.9 631.1,382.4 631.4,388.4 631.7,388.0 632.0,393.2 632.4,394.8 632.7,387.4 633.0,393.3 633.3,388.9 633.6,400.3 633.9,405.2 634.2,421.3 634.5,414.8 634.8,401.1 635.1,395.4 635.3,396.0 635.6,385.9 635.9,384.6 636.2,391.2 636.5,399.9 636.8,406.2 637.1,417.3 637.4,431.5 637.7,442.9 637.9,428.8 638.2,420.6 638.5,406.2 638.8,409.1 639.1,412.6 639.4,414.8 639.7,410.7 640.0,428.3 640.4,429.5 640.7,434.2 641.0,430.0 641.3,437.8 641.6,440.6 642.0,440.7 642.3,449.6 642.6,447.9 642.9,462.0 643.3,462.3 643.6,458.5 643.9,463.7 644.2,452.1 644.6,449.3 644.9,455.6 645.2,456.2 645.5,457.8 645.9,465.5 646.2,465.1 646.5,460.4 646.8,458.5 647.2,449.3 647.5,453.3 647.8,449.6 648.1,447.1 648.4,453.7 648.7,457.3 649.0,463.0 649.3,470.9 649.6,484.8 649.9,506.0 650.2,520.6 650.5,503.0 650.8,482.3 651.0,464.5 651.3,474.4 651.6,482.7 651.9,492.5 652.2,503.3 652.5,515.2 652.8,522.8 653.1,523.8 653.4,516.2 653.7,511.3 654.1,514.1 654.4,516.1 654.7,509.1 655.0,509.7 655.4,503.3 655.7,493.6 656.0,493.6 656.3,490.5 656.7,486.1 656.9,488.5 657.2,498.7 657.5,507.6 657.8,507.3 658.2,505.8 658.5,504.8 658.8,496.8 659.1,498.3 659.5,500.9 659.8,511.5 660.1,514.1 660.4,513.6 660.7,507.6 661.0,503.3 661.3,511.3 661.5,530.4 661.8,540.0 662.1,547.3 662.4,551.2 662.7,554.1 663.0,548.4 663.3,547.0 663.7,544.5 664.0,537.9 664.3,544.7 664.6,549.1 665.0,564.9 665.3,572.4 665.6,567.5 665.9,559.5 666.3,555.9 666.6,546.5 666.9,537.4 667.2,532.1 667.5,532.9 667.8,533.3 668.1,535.4 668.5,527.5 668.8,521.2 669.1,506.2 669.4,507.0 669.8,516.2 670.1,511.1 670.4,525.8 670.7,530.5 671.1,534.2 671.4,534.6 671.7,533.8 672.0,545.5 672.4,545.0 672.7,551.6 673.0,547.4 673.3,540.5 673.7,540.2 674.0,543.4 674.3,547.9 674.6,545.1 675.0,552.8 675.3,558.4 675.6,562.9 675.9,555.2 676.3,549.4 676.6,541.9 676.9,535.5 677.2,542.1 677.5,537.0 677.9,534.6 678.2,531.2 678.5,533.8 678.8,534.5 679.2,537.5 679.5,543.5 679.8,550.1 680.1,554.5 680.5,554.8 680.8,552.5 681.1,562.2 681.4,561.3 681.8,568.6 682.1,568.0 682.4,574.3 682.7,572.6 683.1,578.3 683.4,584.0 683.7,585.1 684.0,591.6 684.4,593.7 684.7,598.5 685.0,598.9 685.3,611.5 685.7,603.1 686.0,588.1 686.3,584.0 686.6,588.1 686.9,582.2 687.3,587.2 687.6,588.2 687.9,590.9 688.2,597.0 688.6,597.3 688.9,605.6 689.2,603.4 689.5,607.3 689.9,607.6 690.2,606.7 690.5,610.4 690.8,607.0 691.2,614.8 691.5,609.3 691.8,605.4 692.1,603.4 692.5,598.0 692.8,600.8 693.1,597.0 693.4,591.8 693.8,589.2 694.1,588.8 694.4,582.2 694.7,575.6 695.0,581.1 695.4,575.9 695.7,584.1 696.0,584.0 696.3,587.2 696.7,589.4 697.0,589.1 697.3,603.4 697.6,607.2 698.0,613.9 698.3,613.2 698.6,616.6 698.9,621.1 699.3,620.4 699.6,618.6 699.9,610.7 700.2,600.2 700.6,594.4 700.9,595.0 701.2,587.2 701.5,587.6 701.9,577.8 702.2,580.7 702.5,572.9 702.8,567.8 703.2,566.3 703.5,573.9 703.8,577.5 704.1,577.8 704.4,570.7 704.8,572.6 705.1,570.2 705.4,585.6 705.7,585.6 706.1,583.1 706.4,582.9 706.7,574.3 707.0,574.2 707.4,586.4 707.7,587.2 708.0,596.2 708.3,598.2 708.7,593.7 709.0,597.9 709.3,604.3 709.6,608.3 710.0,605.6 710.3,607.3 710.6,601.8 710.9,609.0 711.3,609.7 711.6,613.2 711.9,612.5 712.2,623.2 712.6,624.5 712.9,630.5 713.2,641.7 713.5,647.2 713.8,644.3 714.2,645.0 714.5,635.8 714.8,632.0 715.1,619.2 715.5,613.2 715.8,604.6 716.1,593.7 716.4,606.0 716.8,604.9 717.1,613.2 717.4,616.2 717.7,620.3 718.1,618.0 718.4,625.4 718.7,626.2 719.0,627.7 719.4,618.5 719.7,613.9 720.0,613.2 720.3,607.5 720.7,601.5 721.0,593.7 721.3,602.7 721.6,591.9 721.9,595.3 722.3,631.5 722.6,660.2 722.9,657.8 723.2,644.9 723.6,645.6 723.9,636.4 724.2,633.2 724.5,626.1 724.9,618.0 725.2,613.2 725.5,611.0 725.8,611.5 726.2,608.3 726.5,602.9 726.8,604.4 727.1,600.2 727.5,593.8 727.8,589.8 728.1,587.2 728.4,594.4 728.8,596.1 729.1,603.4 729.4,600.1 729.7,600.1 730.1,590.5 730.4,586.2 730.7,581.3 731.0,577.5 731.3,575.9 731.7,568.2 732.0,565.4 732.3,573.0 732.6,569.2 733.0,577.5 733.3,574.7 733.6,567.8 733.9,571.0 734.3,574.9 734.6,582.4 734.9,592.0 735.2,587.1 735.6,593.7 735.9,602.7 736.2,600.2 736.5,597.5 736.9,595.3 737.2,585.6 737.5,577.0 737.8,578.8 738.2,569.4 738.5,569.3 738.8,559.3 739.1,554.8 739.5,552.8 739.8,559.7 740.1,550.0 740.4,553.8 740.7,555.0 741.1,559.7 741.4,563.0 741.7,572.0 742.0,575.9 742.4,578.6 742.7,579.7 743.0,580.7 743.3,579.9 743.7,567.8 744.0,571.0 744.3,578.0 744.6,580.7 745.0,592.0 745.3,593.7 745.6,586.1 745.9,588.5 746.3,580.7 746.6,588.4 746.9,579.5 747.2,585.6 747.6,579.8 747.9,577.9 748.2,579.1 748.5,570.3 748.8,575.2 749.2,571.0 749.5,571.9 749.8,586.7 750.1,592.1 750.5,593.1 750.8,579.2 751.1,580.7 751.4,575.9 751.8,566.9 752.1,569.4 752.4,575.8 752.7,574.5 753.1,580.7 753.4,581.5 753.7,584.2 754.0,585.6 754.4,590.1 754.7,589.9 755.0,593.7 755.3,591.6 755.7,587.6 756.0,587.2 756.3,586.5 756.6,581.2 757.0,584.0 757.3,575.6 757.6,560.3 757.9,558.1 758.2,555.4 758.6,562.2 758.9,554.8 759.2,556.7 759.5,553.9 759.9,559.7 760.2,554.0 760.5,543.5 760.8,540.2 761.2,533.7 761.5,535.6 761.8,537.0 762.1,533.5 762.5,526.4 762.8,519.2 763.1,518.6 763.4,515.6 763.8,518.4 764.1,521.7 764.4,532.1 764.7,542.5 765.1,544.8 765.4,550.0 765.7,543.0 766.0,535.4 766.4,538.6 766.7,529.2 767.0,537.1 767.3,524.0 767.6,525.6 768.0,534.6 768.3,540.2 768.6,543.6 768.9,545.1 769.3,548.3 769.6,551.2 769.9,551.4 770.2,559.7 770.6,568.6 770.9,590.1 771.2,597.0 771.5,585.8 771.9,582.5 772.2,571.0 772.5,571.9 772.8,583.1 773.2,590.5 773.5,584.3 773.8,579.8 774.1,569.4 774.5,566.8 774.8,573.5 775.1,572.6 775.4,566.6 775.7,555.6 776.1,550.8 776.4,564.9 776.7,575.9 777.0,574.5 777.4,576.5 777.7,580.7 778.0,590.4 778.3,600.2 778.7,594.5 779.0,606.3 779.3,609.9 779.6,609.9 780.0,611.6 780.3,619.6 780.6,613.0 780.9,609.1 781.3,618.5 781.6,622.9 781.9,636.1 782.2,652.0 782.6,682.0" fill="none" stroke="#1010e2" stroke-width="1.9" stroke-linejoin="bevel" shape-rendering="crispEdges"/>
<path d="M775.5 683L780.5 679.6L785 683L780.5 686.4Z" fill="#0a0ae0"/>
<rect x="109" y="258" width="675" height="436" fill="none" stroke="#222" stroke-width="1.3"/>
<line x1="98" x2="109" y1="694.2" y2="694.2" stroke="#222" stroke-width="1.2"/>
<text x="96" y="699.9" font-size="16" fill="#383838" text-anchor="end" textLength="40" lengthAdjust="spacingAndGlyphs">160%</text>
<line x1="98" x2="109" y1="657.8" y2="657.8" stroke="#222" stroke-width="1.2"/>
<text x="96" y="663.5" font-size="16" fill="#383838" text-anchor="end" textLength="40" lengthAdjust="spacingAndGlyphs">165%</text>
<line x1="98" x2="109" y1="621.5" y2="621.5" stroke="#222" stroke-width="1.2"/>
<text x="96" y="627.2" font-size="16" fill="#383838" text-anchor="end" textLength="40" lengthAdjust="spacingAndGlyphs">170%</text>
<line x1="98" x2="109" y1="585.1" y2="585.1" stroke="#222" stroke-width="1.2"/>
<text x="96" y="590.9" font-size="16" fill="#383838" text-anchor="end" textLength="40" lengthAdjust="spacingAndGlyphs">175%</text>
<line x1="98" x2="109" y1="548.8" y2="548.8" stroke="#222" stroke-width="1.2"/>
<text x="96" y="554.5" font-size="16" fill="#383838" text-anchor="end" textLength="40" lengthAdjust="spacingAndGlyphs">180%</text>
<line x1="98" x2="109" y1="512.5" y2="512.5" stroke="#222" stroke-width="1.2"/>
<text x="96" y="518.2" font-size="16" fill="#383838" text-anchor="end" textLength="40" lengthAdjust="spacingAndGlyphs">185%</text>
<line x1="98" x2="109" y1="476.1" y2="476.1" stroke="#222" stroke-width="1.2"/>
<text x="96" y="481.8" font-size="16" fill="#383838" text-anchor="end" textLength="40" lengthAdjust="spacingAndGlyphs">190%</text>
<line x1="98" x2="109" y1="439.8" y2="439.8" stroke="#222" stroke-width="1.2"/>
<text x="96" y="445.4" font-size="16" fill="#383838" text-anchor="end" textLength="40" lengthAdjust="spacingAndGlyphs">195%</text>
<line x1="98" x2="109" y1="403.4" y2="403.4" stroke="#222" stroke-width="1.2"/>
<text x="96" y="409.1" font-size="16" fill="#383838" text-anchor="end" textLength="40" lengthAdjust="spacingAndGlyphs">200%</text>
<line x1="98" x2="109" y1="367.1" y2="367.1" stroke="#222" stroke-width="1.2"/>
<text x="96" y="372.8" font-size="16" fill="#383838" text-anchor="end" textLength="40" lengthAdjust="spacingAndGlyphs">205%</text>
<line x1="98" x2="109" y1="330.7" y2="330.7" stroke="#222" stroke-width="1.2"/>
<text x="96" y="336.4" font-size="16" fill="#383838" text-anchor="end" textLength="40" lengthAdjust="spacingAndGlyphs">210%</text>
<line x1="98" x2="109" y1="294.4" y2="294.4" stroke="#222" stroke-width="1.2"/>
<text x="96" y="300.1" font-size="16" fill="#383838" text-anchor="end" textLength="40" lengthAdjust="spacingAndGlyphs">215%</text>
<line x1="98" x2="109" y1="258.0" y2="258.0" stroke="#222" stroke-width="1.2"/>
<text x="96" y="263.7" font-size="16" fill="#383838" text-anchor="end" textLength="40" lengthAdjust="spacingAndGlyphs">220%</text>
<line x1="109.0" x2="109.0" y1="694" y2="703" stroke="#222" stroke-width="1.2"/>
<text x="109.0" y="718" font-size="16" fill="#383838" text-anchor="middle" textLength="34.3" lengthAdjust="spacingAndGlyphs">2011</text>
<line x1="203.4" x2="203.4" y1="694" y2="703" stroke="#222" stroke-width="1.2"/>
<text x="203.4" y="718" font-size="16" fill="#383838" text-anchor="middle" textLength="34.3" lengthAdjust="spacingAndGlyphs">2013</text>
<line x1="297.8" x2="297.8" y1="694" y2="703" stroke="#222" stroke-width="1.2"/>
<text x="297.8" y="718" font-size="16" fill="#383838" text-anchor="middle" textLength="34.3" lengthAdjust="spacingAndGlyphs">2015</text>
<line x1="392.3" x2="392.3" y1="694" y2="703" stroke="#222" stroke-width="1.2"/>
<text x="392.3" y="718" font-size="16" fill="#383838" text-anchor="middle" textLength="34.3" lengthAdjust="spacingAndGlyphs">2017</text>
<line x1="486.7" x2="486.7" y1="694" y2="703" stroke="#222" stroke-width="1.2"/>
<text x="486.7" y="718" font-size="16" fill="#383838" text-anchor="middle" textLength="34.3" lengthAdjust="spacingAndGlyphs">2019</text>
<line x1="581.1" x2="581.1" y1="694" y2="703" stroke="#222" stroke-width="1.2"/>
<text x="581.1" y="718" font-size="16" fill="#383838" text-anchor="middle" textLength="34.3" lengthAdjust="spacingAndGlyphs">2021</text>
<line x1="675.5" x2="675.5" y1="694" y2="703" stroke="#222" stroke-width="1.2"/>
<text x="675.5" y="718" font-size="16" fill="#383838" text-anchor="middle" textLength="34.3" lengthAdjust="spacingAndGlyphs">2023</text>
<line x1="769.9" x2="769.9" y1="694" y2="703" stroke="#222" stroke-width="1.2"/>
<text x="769.9" y="718" font-size="16" fill="#383838" text-anchor="middle" textLength="34.3" lengthAdjust="spacingAndGlyphs">2025</text>
<text x="429" y="244" font-size="16" fill="#383838" text-anchor="middle" textLength="171.5" lengthAdjust="spacingAndGlyphs">Global Long/Short Ratio</text>
</svg>
<svg width="864" height="1290" viewBox="0 0 864 1290" style="font-family:'Liberation Sans',sans-serif;font-weight:bold">
<path d="M111.0 951.9V1000.0M111.5 951.9V1000.0M112.0 951.9V1005.6M112.5 951.9V1004.4M113.0 946.0V1006.4M113.5 946.0V1006.4M114.0 928.9V1006.4M114.5 929.3V1017.4M115.0 947.6V1015.3M115.5 949.5V1010.6M116.0 949.5V1010.6M116.5 949.5V1010.6M117.0 946.4V1014.7M117.5 946.4V1014.7M118.0 930.8V1005.6M118.5 933.6V1004.9M119.0 948.6V1013.3M119.5 948.6V1013.3M120.0 946.4V1010.0M120.5 946.4V1010.0M121.0 946.4V1010.0M121.5 921.0V1012.9M122.0 922.1V1012.9M122.5 960.8V1050.9M123.0 960.8V1048.7M123.5 956.8V1015.4M124.0 956.8V1015.4M124.5 952.5V1012.0M125.0 952.5V1012.0M125.5 918.0V1093.2M126.0 920.3V1092.2M126.5 958.5V1013.8M127.0 957.7V1001.8M127.5 957.7V1072.5M128.0 958.4V1071.5M128.5 936.7V1015.4M129.0 938.9V1015.4M129.5 958.4V1025.3M130.0 939.8V1023.0M130.5 939.8V1023.3M131.0 939.8V1023.3M131.5 952.6V1029.3M132.0 952.6V1029.3M132.5 929.9V1007.3M133.0 929.9V1007.3M133.5 946.2V1008.6M134.0 946.2V1008.6M134.5 938.7V1012.5M135.0 941.4V1010.0M135.5 956.4V1003.0M136.0 957.4V996.8M136.5 957.4V996.8M137.0 958.1V1000.8M137.5 958.1V1000.8M138.0 958.1V1000.8M138.5 958.5V997.7M139.0 958.5V997.7M139.5 957.4V1003.5M140.0 957.4V1003.5M140.5 930.8V1003.5M141.0 930.9V1010.7M141.5 955.3V1010.7M142.0 955.3V1010.7M142.5 955.3V1010.7M143.0 951.3V1004.5M143.5 951.3V1064.3M144.0 953.1V1061.8M144.5 913.1V1003.1M145.0 914.1V1003.1M145.5 940.3V1025.5M146.0 940.3V1025.5M146.5 895.4V1025.5M147.0 896.6V1024.4M147.5 949.5V1023.3M148.0 949.5V1021.6M148.5 928.9V1024.4M149.0 929.1V1029.3M149.5 940.1V1029.3M150.0 950.3V1002.3M150.5 950.3V1002.3M151.0 950.3V1002.3M151.5 950.3V1002.3M152.0 949.6V1001.7M152.5 949.6V1000.4M153.0 944.6V1003.6M153.5 947.3V1003.6M154.0 945.7V1003.6M154.5 945.7V1003.6M155.0 941.5V996.8M155.5 941.5V996.8M156.0 936.4V993.8M156.5 936.4V993.8M157.0 942.6V998.6M157.5 943.6V1059.7M158.0 925.2V1057.6M158.5 925.2V998.6M159.0 947.0V994.7M159.5 947.0V994.7M160.0 907.2V994.7M160.5 909.5V994.6M161.0 948.4V994.6M161.5 948.4V994.6M162.0 948.6V1015.5M162.5 948.6V1013.6M163.0 942.6V1000.0M163.5 944.2V1000.0M164.0 944.3V1009.9M164.5 944.3V1009.9M165.0 944.3V1009.9M165.5 944.3V1009.9M166.0 924.0V1021.4M166.5 924.1V1018.9M167.0 945.5V997.6M167.5 945.1V1000.4M168.0 945.1V1000.4M168.5 954.4V1009.5M169.0 954.4V1036.1M169.5 954.4V1033.7M170.0 936.7V1006.2M170.5 937.9V1006.2M171.0 934.2V1006.2M171.5 953.3V1003.0M172.0 953.3V1003.0M172.5 953.3V1003.0M173.0 945.3V1006.7M173.5 945.3V1054.8M174.0 947.1V1054.4M174.5 947.1V1004.0M175.0 906.2V1004.0M175.5 907.0V1004.0M176.0 953.8V1002.9M176.5 953.8V1002.9M177.0 949.7V999.8M177.5 908.2V999.8M178.0 908.3V1046.9M178.5 950.9V1045.8M179.0 950.9V1013.2M179.5 948.6V1001.9M180.0 930.8V1001.9M180.5 931.3V1000.2M181.0 937.4V1000.2M181.5 937.4V1017.4M182.0 950.0V1015.4M182.5 915.1V1001.2M183.0 916.9V1001.2M183.5 950.0V1001.2M184.0 946.2V1004.0M184.5 946.2V1004.0M185.0 949.6V1027.2M185.5 921.0V1027.2M186.0 921.1V1027.2M186.5 955.4V1000.8M187.0 955.4V1064.3M187.5 958.0V1063.6M188.0 958.0V1009.0M188.5 949.0V1005.8M189.0 949.0V1005.8M189.5 947.4V1011.3M190.0 909.2V1011.3M190.5 910.1V1027.4M191.0 953.9V1023.3M191.5 950.0V1022.8M192.0 950.0V1007.7M192.5 950.0V1007.7M193.0 951.3V1011.1M193.5 951.3V1011.1M194.0 948.9V1015.1M194.5 948.9V1015.1M195.0 951.3V1013.4M195.5 951.3V1013.4M196.0 951.3V1013.4M196.5 951.3V1013.4M197.0 951.1V1005.7M197.5 951.1V1005.7M198.0 928.8V1003.2M198.5 936.7V1020.4M199.0 938.0V1020.3M199.5 937.2V1016.7M200.0 937.2V1016.7M200.5 937.7V1005.2M201.0 937.7V1005.2M201.5 937.7V1005.2M202.0 929.9V1005.2M202.5 931.5V1010.7M203.0 931.3V1010.7M203.5 931.3V1017.4M204.0 931.3V1015.7M204.5 948.8V1002.7M205.0 948.8V1002.7M205.5 952.5V1014.7M206.0 952.9V1014.7M206.5 947.8V1011.8M207.0 947.8V1011.8M207.5 947.8V1011.5M208.0 952.0V1008.7M208.5 952.0V996.0M209.0 952.0V996.0M209.5 899.0V1003.6M210.0 901.1V1003.6M210.5 941.9V1003.6M211.0 940.3V1009.7M211.5 940.3V1023.3M212.0 940.3V1020.4M212.5 940.3V1009.7M213.0 944.8V991.9M213.5 944.8V991.9M214.0 944.8V991.9M214.5 949.8V997.0M215.0 949.8V997.0M215.5 949.8V997.0M216.0 946.7V1006.8M216.5 946.7V1006.8M217.0 946.7V1023.3M217.5 944.0V1022.9M218.0 938.7V999.6M218.5 939.5V997.1M219.0 944.9V997.1M219.5 944.9V997.1M220.0 944.9V997.1M220.5 926.5V995.7M221.0 926.5V995.7M221.5 943.6V1022.2M222.0 931.8V1022.2M222.5 934.0V1001.6M223.0 948.4V1013.5M223.5 948.4V1011.4M224.0 949.9V1005.5M224.5 949.9V1005.5M225.0 946.6V1005.5M225.5 948.6V1007.8M226.0 939.9V1007.8M226.5 939.9V1007.8M227.0 947.5V1021.2M227.5 902.9V1021.2M228.0 903.3V1021.2M228.5 949.4V1064.6M229.0 949.4V1063.4M229.5 949.4V999.5M230.0 949.4V999.5M230.5 953.3V1013.9M231.0 953.3V1013.9M231.5 924.9V1001.8M232.0 925.5V1001.8M232.5 949.0V1001.8M233.0 953.5V1009.5M233.5 953.5V1007.7M234.0 953.5V997.7M234.5 953.5V997.7M235.0 954.8V1014.4M235.5 954.8V1014.4M236.0 954.8V1014.4M236.5 960.7V1002.3M237.0 937.7V1002.3M237.5 938.6V1002.3M238.0 957.4V996.6M238.5 957.4V996.6M239.0 953.3V1011.5M239.5 953.3V1010.3M240.0 911.6V1000.7M240.5 913.7V1000.7M241.0 949.1V1000.7M241.5 957.6V1004.7M242.0 957.6V1004.7M242.5 942.6V1011.6M243.0 943.9V1011.6M243.5 956.2V1006.0M244.0 956.2V1006.0M244.5 936.5V1056.8M245.0 936.5V1054.0M245.5 888.5V1005.0M246.0 889.7V1011.9M246.5 945.4V1011.9M247.0 945.4V1033.2M247.5 945.4V1030.2M248.0 947.9V1014.3M248.5 914.1V1014.3M249.0 916.7V1014.3M249.5 936.3V1013.5M250.0 936.3V1066.6M250.5 949.2V1066.5M251.0 949.2V1008.0M251.5 949.2V1008.0M252.0 906.2V1008.2M252.5 906.9V1008.2M253.0 950.6V1023.4M253.5 950.6V1023.4M254.0 950.6V1023.4M254.5 950.6V1023.3M255.0 945.6V1021.2M255.5 902.3V1022.0M256.0 903.2V1022.0M256.5 955.7V1011.7M257.0 955.7V1011.7M257.5 954.3V1012.3M258.0 954.3V1012.3M258.5 947.4V993.4M259.0 947.4V993.4M259.5 939.7V1004.3M260.0 940.7V1004.3M260.5 957.6V1004.3M261.0 955.9V992.6M261.5 955.9V992.6M262.0 952.0V996.1M262.5 940.7V996.1M263.0 941.3V996.1M263.5 954.1V989.2M264.0 954.1V989.2M264.5 954.1V989.2M265.0 952.6V989.9M265.5 952.6V1033.2M266.0 943.9V1032.8M266.5 943.9V1000.6M267.0 943.9V1000.6M267.5 910.2V1000.6M268.0 910.3V996.5M268.5 925.2V1043.0M269.0 941.6V1042.9M269.5 941.6V1002.0M270.0 941.6V1002.0M270.5 941.6V1002.0M271.0 933.1V1058.0M271.5 933.1V1057.2M272.0 933.4V999.6M272.5 935.5V998.9M273.0 935.5V998.9M273.5 941.3V1004.8M274.0 931.1V1004.8M274.5 933.0V1023.6M275.0 941.3V1021.4M275.5 952.0V1013.4M276.0 952.0V1013.4M276.5 952.0V1013.4M277.0 952.0V1013.4M277.5 948.4V1039.3M278.0 948.4V1036.3M278.5 948.4V1019.9M279.0 948.4V1019.9M279.5 942.0V1000.3M280.0 929.1V1000.3M280.5 930.8V1000.3M281.0 942.0V1015.7M281.5 953.3V1015.3M282.0 953.3V1001.1M282.5 956.2V999.5M283.0 956.2V999.5M283.5 948.7V998.8M284.0 948.7V998.8M284.5 955.6V1001.1M285.0 955.6V1028.5M285.5 931.1V1027.5M286.0 933.5V1001.1M286.5 947.6V1003.0M287.0 947.6V1003.0M287.5 942.9V1007.0M288.0 942.9V1007.0M288.5 942.9V1023.6M289.0 911.4V1023.5M289.5 914.3V1010.2M290.0 956.4V1010.2M290.5 945.3V1018.7M291.0 945.3V1018.7M291.5 951.8V1013.7M292.0 951.8V1012.1M292.5 951.8V998.4M293.0 938.4V1016.9M293.5 938.4V1016.9M294.0 938.4V1016.9M294.5 925.2V1029.3M295.0 926.1V1029.3M295.5 953.8V1007.8M296.0 953.8V1007.8M296.5 952.3V1010.6M297.0 952.3V1010.6M297.5 952.3V1029.5M298.0 945.1V1028.0M298.5 945.1V1000.2M299.0 945.1V1000.2M299.5 945.1V1000.2M300.0 950.0V1011.8M300.5 950.0V1011.8M301.0 933.1V1011.8M301.5 935.1V1015.7M302.0 956.5V1014.6M302.5 956.5V1020.7M303.0 956.5V1020.7M303.5 947.5V1002.4M304.0 947.5V1002.4M304.5 947.5V1002.4M305.0 952.0V1009.2M305.5 952.0V1009.2M306.0 919.3V1009.2M306.5 922.0V1023.6M307.0 952.7V1022.7M307.5 952.7V1008.3M308.0 952.7V1008.3M308.5 952.7V1008.3M309.0 944.2V1009.3M309.5 927.2V1031.5M310.0 927.8V1029.0M310.5 944.2V1009.3M311.0 944.0V1001.0M311.5 876.4V1046.2M312.0 878.5V1043.7M312.5 947.8V998.0M313.0 947.8V998.0M313.5 948.0V996.3M314.0 948.0V996.3M314.5 948.0V1015.7M315.0 947.4V1014.9M315.5 947.4V995.3M316.0 947.9V995.0M316.5 947.9V995.0M317.0 894.7V1102.7M317.5 896.7V1101.5M318.0 929.8V1002.2M318.5 929.1V996.9M319.0 929.1V996.9M319.5 929.1V996.9M320.0 932.4V1002.6M320.5 932.4V1002.6M321.0 913.4V1009.8M321.5 916.3V1008.0M322.0 925.2V1010.6M322.5 925.2V1010.6M323.0 925.2V1010.6M323.5 945.5V1012.6M324.0 945.5V1022.6M324.5 930.9V1020.3M325.0 918.3V998.0M325.5 920.9V998.0M326.0 947.3V1012.5M326.5 947.3V1012.5M327.0 936.7V1003.2M327.5 936.7V1003.2M328.0 922.2V1021.6M328.5 922.9V1018.7M329.0 940.9V1008.3M329.5 940.9V1008.3M330.0 950.0V1008.7M330.5 916.3V1008.7M331.0 918.2V1002.3M331.5 925.2V1009.8M332.0 947.2V1008.6M332.5 947.2V1003.7M333.0 947.8V1002.9M333.5 947.8V1002.9M334.0 947.8V1002.9M334.5 937.1V1002.8M335.0 935.0V1003.9M335.5 935.3V1001.8M336.0 948.6V1010.9M336.5 948.6V1010.9M337.0 948.6V1010.9M337.5 946.5V1005.0M338.0 946.5V1005.0M338.5 931.1V1007.2M339.0 932.4V1011.8M339.5 942.7V1010.1M340.0 946.2V1001.0M340.5 946.2V1001.0M341.0 948.7V1002.1M341.5 948.7V1002.1M342.0 943.7V1013.7M342.5 943.7V1011.3M343.0 943.7V1000.8M343.5 929.3V1000.0M344.0 929.3V1000.0M344.5 929.3V1000.0M345.0 865.8V1000.0M345.5 866.9V1003.9M346.0 953.1V1029.5M346.5 953.1V1029.0M347.0 885.8V1009.9M347.5 886.0V1009.9M348.0 944.7V1011.7M348.5 944.7V1029.5M349.0 944.7V1029.0M349.5 929.1V1011.5M350.0 930.3V1011.5M350.5 957.0V1011.5M351.0 951.4V1003.7M351.5 951.4V1019.6M352.0 944.4V1019.3M352.5 944.4V1014.2M353.0 944.4V1014.2M353.5 953.3V1001.2M354.0 953.3V1001.2M354.5 953.3V1001.2M355.0 953.3V1001.2M355.5 952.8V1014.7M356.0 830.3V1011.9M356.5 831.3V1011.7M357.0 957.5V999.9M357.5 957.5V999.9M358.0 957.5V999.9M358.5 957.5V999.9M359.0 943.4V994.1M359.5 926.2V1007.8M360.0 927.7V1007.1M360.5 943.4V994.1M361.0 954.1V1017.4M361.5 954.1V1017.4M362.0 951.7V994.1M362.5 923.2V994.1M363.0 924.1V998.8M363.5 954.7V998.8M364.0 953.5V1059.0M364.5 953.5V1057.5M365.0 947.1V992.8M365.5 947.1V992.8M366.0 870.7V992.0M366.5 871.2V992.0M367.0 940.9V992.0M367.5 925.2V1019.6M368.0 925.2V1019.3M368.5 925.2V999.1M369.0 925.2V999.1M369.5 933.1V992.6M370.0 934.3V992.6M370.5 953.3V992.6M371.0 941.8V1025.5M371.5 941.8V1024.6M372.0 941.8V1008.4M372.5 931.1V1008.4M373.0 932.5V994.6M373.5 950.3V994.6M374.0 950.3V994.6M374.5 935.6V1011.8M375.0 935.6V1011.7M375.5 935.6V997.2M376.0 953.5V997.3M376.5 953.5V997.3M377.0 953.5V997.3M377.5 953.5V997.3M378.0 943.8V996.0M378.5 860.3V994.3M379.0 860.8V1003.1M379.5 949.5V1010.8M380.0 895.7V1010.8M380.5 897.7V1010.8M381.0 949.5V1010.8M381.5 944.8V1010.8M382.0 944.8V1007.8M382.5 944.8V1007.4M383.0 941.6V1015.4M383.5 941.6V1015.4M384.0 941.6V1015.4M384.5 917.3V998.6M385.0 918.0V1021.6M385.5 942.1V1019.7M386.0 942.1V1006.7M386.5 939.9V1000.6M387.0 939.9V1000.6M387.5 939.9V1000.6M388.0 925.2V1011.8M388.5 925.2V1011.0M389.0 925.2V1007.5M389.5 925.7V1007.2M390.0 925.7V1007.2M390.5 933.1V1007.2M391.0 933.3V1004.2M391.5 950.8V1023.6M392.0 950.8V1022.9M392.5 948.7V997.2M393.0 948.7V997.2M393.5 936.9V1017.9M394.0 936.9V1017.9M394.5 917.3V1017.9M395.0 918.3V999.4M395.5 952.3V1056.6M396.0 953.0V1055.2M396.5 953.0V999.1M397.0 925.2V999.1M397.5 926.5V999.1M398.0 955.7V1002.2M398.5 955.7V1002.2M399.0 947.2V1003.5M399.5 947.2V1003.5M400.0 947.2V1000.0M400.5 950.2V998.9M401.0 937.0V1008.0M401.5 937.5V1008.0M402.0 951.0V1013.3M402.5 951.0V1013.3M403.0 951.0V1013.3M403.5 946.5V1004.0M404.0 946.5V992.1M404.5 949.4V991.3M405.0 949.4V999.8M405.5 956.7V1014.4M406.0 935.0V1014.4M406.5 936.8V1014.4M407.0 956.9V1013.1M407.5 956.9V1000.0M408.0 956.9V999.8M408.5 956.4V1003.3M409.0 956.4V1003.3M409.5 917.3V1003.3M410.0 919.4V1003.3M410.5 957.9V1001.7M411.0 957.9V1001.7M411.5 957.9V992.1M412.0 943.7V991.9M412.5 933.1V994.0M413.0 934.7V995.0M413.5 956.3V995.0M414.0 951.2V992.9M414.5 951.2V992.9M415.0 955.9V994.9M415.5 955.9V994.9M416.0 923.6V1007.8M416.5 925.7V1005.2M417.0 956.8V1006.0M417.5 956.8V1006.0M418.0 948.9V995.2M418.5 948.9V995.2M419.0 953.0V992.4M419.5 940.9V992.4M420.0 941.0V992.4M420.5 953.5V996.0M421.0 953.5V995.1M421.5 953.5V1004.7M422.0 887.8V1003.2M422.5 889.0V1003.2M423.0 953.1V1008.7M423.5 953.1V1011.8M424.0 953.1V1011.5M424.5 953.1V1008.7M425.0 953.3V999.9M425.5 953.3V999.9M426.0 953.3V999.9M426.5 936.0V1062.0M427.0 937.1V1061.4M427.5 951.3V1012.5M428.0 951.3V1012.5M428.5 951.3V1012.5M429.0 951.3V1012.5M429.5 945.2V1011.8M430.0 945.2V1010.3M430.5 943.8V1003.6M431.0 943.8V1003.6M431.5 942.9V1010.1M432.0 943.1V1010.1M432.5 939.2V1010.1M433.0 939.2V1010.1M433.5 945.9V994.1M434.0 945.9V991.1M434.5 945.9V1016.2M435.0 942.9V1006.0M435.5 942.9V1006.0M436.0 941.1V993.1M436.5 929.1V992.5M437.0 929.3V1007.2M437.5 941.1V1007.2M438.0 950.0V1008.0M438.5 950.0V1008.0M439.0 950.0V1008.0M439.5 945.8V1010.8M440.0 945.8V1008.2M440.5 945.8V1009.8M441.0 939.0V1011.8M441.5 940.5V1011.8M442.0 928.2V1013.7M442.5 928.2V1013.7M443.0 928.2V1016.7M443.5 928.2V1015.2M444.0 935.0V1006.9M444.5 935.0V1006.9M445.0 935.0V1006.9M445.5 947.2V1000.5M446.0 947.2V1019.6M446.5 947.2V1018.4M447.0 955.1V1010.0M447.5 955.1V1010.0M448.0 861.2V1010.0M448.5 863.0V1010.0M449.0 937.8V1059.6M449.5 937.8V1057.2M450.0 937.8V1001.4M450.5 948.6V1004.2M451.0 948.6V1004.2M451.5 948.6V1004.2M452.0 948.6V1004.2M452.5 922.8V1017.7M453.0 924.2V1016.5M453.5 945.5V1008.4M454.0 945.5V1008.4M454.5 944.8V1013.1M455.0 944.8V1013.1M455.5 948.8V1006.3M456.0 949.8V1006.3M456.5 949.6V1003.9M457.0 949.6V1003.7M457.5 949.6V1006.7M458.0 937.8V1002.1M458.5 937.8V1002.1M459.0 940.8V1014.5M459.5 940.8V1014.5M460.0 945.4V1001.2M460.5 940.0V998.0M461.0 940.7V996.3M461.5 950.8V997.9M462.0 950.8V997.9M462.5 950.8V997.9M463.0 952.9V996.4M463.5 952.9V996.4M464.0 942.0V1014.7M464.5 927.2V1012.8M465.0 927.2V998.7M465.5 958.0V998.7M466.0 958.0V998.7M466.5 953.7V999.4M467.0 953.7V999.4M467.5 953.7V1003.9M468.0 953.7V1002.0M468.5 947.6V1008.8M469.0 947.6V1008.8M469.5 947.6V1008.8M470.0 948.8V990.9M470.5 940.9V990.9M471.0 942.0V1008.3M471.5 954.3V1008.3M472.0 957.8V1015.5M472.5 957.8V992.1M473.0 957.8V991.3M473.5 947.2V1004.7M474.0 947.2V1004.7M474.5 947.2V1004.7M475.0 936.4V1008.5M475.5 926.2V1008.5M476.0 928.9V996.3M476.5 938.6V1017.7M477.0 944.3V1014.9M477.5 944.3V1000.0M478.0 929.1V1002.3M478.5 930.8V1002.3M479.0 949.0V1005.8M479.5 949.0V1005.8M480.0 949.0V1019.6M480.5 943.1V1017.1M481.0 943.1V1002.2M481.5 943.1V1002.2M482.0 931.2V1002.1M482.5 931.2V1002.1M483.0 938.4V1016.5M483.5 938.4V1016.5M484.0 903.0V1016.5M484.5 903.7V1056.0M485.0 933.5V1053.1M485.5 927.8V1013.2M486.0 927.8V1013.2M486.5 949.5V1006.7M487.0 949.5V1006.7M487.5 935.4V1007.6M488.0 937.4V1007.6M488.5 951.2V1007.6M489.0 946.3V992.1M489.5 946.3V990.8M490.0 946.3V1002.8M490.5 944.1V1004.5M491.0 944.1V1004.5M491.5 933.7V1016.1M492.0 939.0V1016.1M492.5 939.5V1013.7M493.0 944.4V1011.2M493.5 944.4V997.0M494.0 944.4V997.0M494.5 944.4V997.0M495.0 943.2V1000.2M495.5 943.2V1000.2M496.0 948.8V1000.2M496.5 950.2V1003.9M497.0 951.6V1001.7M497.5 951.6V999.5M498.0 951.6V999.5M498.5 892.1V999.2M499.0 894.0V999.2M499.5 946.3V1004.8M500.0 946.3V1022.6M500.5 943.4V1022.1M501.0 943.4V1012.8M501.5 943.4V1012.8M502.0 943.4V1012.8M502.5 943.9V1002.3M503.0 918.9V1007.8M503.5 921.8V1007.8M504.0 927.8V1012.8M504.5 943.5V1012.8M505.0 943.5V1012.8M505.5 943.5V1012.8M506.0 940.6V1004.2M506.5 940.6V1004.2M507.0 940.6V1004.2M507.5 940.6V1004.2M508.0 935.0V1014.8M508.5 935.0V1014.8M509.0 935.0V1014.8M509.5 944.9V1075.7M510.0 946.0V1075.2M510.5 940.4V1008.3M511.0 940.4V1008.3M511.5 954.7V1006.9M512.0 954.7V1006.9M512.5 919.3V988.2M513.0 921.0V987.8M513.5 952.4V995.7M514.0 952.4V995.7M514.5 950.8V1008.4M515.0 950.8V1008.4M515.5 953.0V995.3M516.0 953.0V995.3M516.5 922.8V1003.9M517.0 925.7V1003.7M517.5 951.2V996.8M518.0 951.2V996.8M518.5 947.0V997.2M519.0 947.0V997.2M519.5 947.0V997.2M520.0 940.9V1040.3M520.5 943.2V1039.2M521.0 954.7V995.6M521.5 954.7V995.6M522.0 936.8V1003.5M522.5 936.8V1003.5M523.0 954.3V1003.8M523.5 954.3V1003.8M524.0 943.2V1003.9M524.5 915.7V1001.6M525.0 917.6V1004.3M525.5 928.5V1004.3M526.0 953.7V1000.5M526.5 953.7V1000.5M527.0 915.4V1000.5M527.5 917.2V1005.9M528.0 938.2V1004.9M528.5 938.2V998.4M529.0 944.4V1015.6M529.5 944.4V1015.6M530.0 947.3V1040.3M530.5 947.3V1038.8M531.0 955.0V1004.1M531.5 921.3V1004.1M532.0 922.5V1019.9M532.5 953.6V1019.9M533.0 913.4V1019.9M533.5 914.6V1011.2M534.0 946.7V1011.2M534.5 946.7V1017.7M535.0 946.0V1017.6M535.5 877.6V1029.3M536.0 878.4V1010.8M536.5 953.6V1010.8M537.0 943.4V1015.8M537.5 943.4V1051.1M538.0 943.4V1050.5M538.5 957.8V1025.7M539.0 957.8V1025.7M539.5 957.8V1025.7M540.0 957.4V1015.1M540.5 922.2V1015.1M541.0 924.7V1029.3M541.5 945.0V1035.4M542.0 941.0V1032.5M542.5 941.0V1007.6M543.0 927.2V1007.6M543.5 929.8V1007.6M544.0 951.9V1008.1M544.5 951.9V1008.1M545.0 951.9V1012.8M545.5 947.9V1012.7M546.0 947.9V1006.9M546.5 946.1V1014.1M547.0 946.1V1014.1M547.5 945.9V1004.3M548.0 945.9V1004.3M548.5 945.9V1004.3M549.0 925.2V1011.8M549.5 925.2V1010.2M550.0 916.3V1003.8M550.5 917.5V1003.8M551.0 947.6V1003.8M551.5 945.2V1004.4M552.0 945.2V1004.4M552.5 945.2V1004.4M553.0 949.4V1008.8M553.5 949.4V1006.4M554.0 925.2V1005.1M554.5 925.2V1005.1M555.0 925.2V1005.1M555.5 927.9V1003.3M556.0 940.8V1003.3M556.5 940.8V1001.9M557.0 940.8V999.6M557.5 934.3V1004.9M558.0 933.1V1004.9M558.5 933.2V1004.9M559.0 947.5V1003.9M559.5 947.5V1003.9M560.0 947.5V1021.6M560.5 947.5V1019.4M561.0 948.8V1012.6M561.5 878.4V1012.6M562.0 878.8V1000.2M562.5 951.0V1000.2M563.0 953.2V1017.7M563.5 953.2V1017.7M564.0 953.2V1012.8M564.5 956.0V1011.6M565.0 956.0V1004.0M565.5 956.0V1004.0M566.0 939.0V1004.0M566.5 940.5V1001.8M567.0 946.9V1001.8M567.5 946.9V1001.8M568.0 946.9V1005.9M568.5 947.1V1003.5M569.0 947.1V1000.6M569.5 947.1V1000.6M570.0 949.1V1018.9M570.5 949.1V1018.9M571.0 912.4V1044.2M571.5 913.3V1041.8M572.0 938.7V992.4M572.5 938.7V992.4M573.0 938.7V992.4M573.5 938.7V1015.7M574.0 953.8V1013.4M574.5 953.8V993.6M575.0 911.4V998.2M575.5 912.5V998.2M576.0 942.5V1000.8M576.5 942.5V1050.1M577.0 942.5V1047.2M577.5 895.3V1006.5M578.0 898.2V1006.5M578.5 940.7V1006.5M579.0 954.1V997.6M579.5 954.1V997.6M580.0 954.1V997.6M580.5 937.0V1033.4M581.0 937.4V1033.1M581.5 950.3V1004.4M582.0 950.3V1004.4M582.5 950.3V1004.4M583.0 950.3V1004.4M583.5 954.7V1030.5M584.0 954.7V1027.6M584.5 954.7V1019.1M585.0 958.1V1004.8M585.5 958.1V1004.8M586.0 925.2V1004.8M586.5 925.8V1029.3M587.0 956.9V1044.2M587.5 960.2V1043.0M588.0 960.2V1014.2M588.5 933.1V1016.8M589.0 933.7V1016.8M589.5 950.0V1004.4M590.0 950.0V1004.4M590.5 952.9V1027.5M591.0 952.9V1025.4M591.5 946.0V1011.8M592.0 946.0V1011.8M592.5 936.0V1034.4M593.0 938.1V1033.7M593.5 949.3V1009.3M594.0 947.3V1007.1M594.5 947.3V1007.1M595.0 944.5V1003.0M595.5 944.5V1003.0M596.0 944.5V1003.0M596.5 944.5V1003.0M597.0 951.0V1010.1M597.5 951.0V1058.6M598.0 930.3V1058.6M598.5 930.3V1058.5M599.0 930.3V1001.5M599.5 937.0V1001.8M600.0 938.6V1001.8M600.5 938.7V1003.9M601.0 932.8V1002.2M601.5 931.8V1009.0M602.0 931.8V1009.0M602.5 931.8V1009.0M603.0 942.9V1009.0M603.5 944.1V1015.5M604.0 942.9V1013.7M604.5 942.9V1013.1M605.0 934.8V1022.9M605.5 934.8V1022.9M606.0 934.8V1022.9M606.5 946.9V1037.4M607.0 946.9V1036.2M607.5 946.9V1006.7M608.0 936.1V1010.2M608.5 898.6V1010.2M609.0 899.3V1001.9M609.5 935.6V1000.8M610.0 935.6V1002.7M610.5 925.2V1066.9M611.0 926.7V1064.9M611.5 947.6V1004.6M612.0 929.8V1012.9M612.5 881.9V1012.9M613.0 883.9V1012.9M613.5 929.8V1012.9M614.0 936.1V1019.3M614.5 936.1V1037.4M615.0 936.1V1034.9M615.5 931.1V1019.3M616.0 932.7V1003.8M616.5 938.2V1003.8M617.0 938.2V1003.8M617.5 938.2V1003.8M618.0 905.9V1061.0M618.5 907.8V1059.9M619.0 944.4V1018.6M619.5 938.3V995.8M620.0 938.3V995.8M620.5 925.2V998.7M621.0 925.2V998.7M621.5 925.2V1033.4M622.0 926.9V1031.5M622.5 936.4V1001.9M623.0 936.4V1001.9M623.5 936.4V1001.9M624.0 944.4V1010.9M624.5 922.2V1027.5M625.0 924.7V1026.5M625.5 945.8V997.5M626.0 945.8V997.5M626.5 945.8V1019.6M627.0 950.4V1018.8M627.5 950.4V1001.9M628.0 950.4V1001.9M628.5 950.4V1081.6M629.0 933.1V1078.9M629.5 936.0V1004.9M630.0 942.6V1004.9M630.5 942.6V1004.9M631.0 955.5V1013.1M631.5 955.5V1007.8M632.0 955.5V1006.9M632.5 950.9V1017.7M633.0 950.9V1017.7M633.5 950.9V1017.7M634.0 952.2V1020.1M634.5 952.2V1020.1M635.0 952.2V1020.1M635.5 928.1V1065.9M636.0 929.1V1065.6M636.5 953.2V1018.2M637.0 931.4V1015.0M637.5 931.4V1015.0M638.0 931.4V1015.0M638.5 922.2V1017.0M639.0 923.3V1017.0M639.5 951.3V1027.5M640.0 947.2V1026.5M640.5 947.2V1016.4M641.0 931.1V1016.4M641.5 933.8V1029.3M642.0 944.1V1026.5M642.5 950.1V1024.3M643.0 950.1V1008.9M643.5 867.7V1008.9M644.0 868.7V1028.6M644.5 946.0V1028.6M645.0 946.0V1028.6M645.5 946.0V1028.6M646.0 925.2V1000.0M646.5 925.2V999.3M647.0 927.3V1029.3M647.5 943.6V1029.3M648.0 938.3V1020.4M648.5 938.3V1020.4M649.0 927.2V1020.4M649.5 929.2V1087.5M650.0 936.9V1085.3M650.5 946.9V1006.4M651.0 946.9V1006.4M651.5 946.9V1006.4M652.0 925.2V1016.7M652.5 927.3V996.0M653.0 940.5V994.4M653.5 950.5V1011.2M654.0 950.5V1011.2M654.5 950.5V1011.2M655.0 932.1V1015.5M655.5 935.0V1056.0M656.0 951.1V1054.0M656.5 941.0V1015.6M657.0 941.0V1015.6M657.5 941.0V1015.6M658.0 941.0V1015.6M658.5 925.2V1007.8M659.0 925.2V1039.3M659.5 890.2V1038.8M660.0 892.6V1014.1M660.5 944.8V1005.1M661.0 944.8V1005.1M661.5 925.2V1018.7M662.0 899.6V1003.9M662.5 900.1V1003.6M663.0 925.2V1018.7M663.5 937.3V1010.8M664.0 937.3V1010.8M664.5 928.7V1012.2M665.0 928.7V1044.2M665.5 928.7V1043.8M666.0 933.1V1026.4M666.5 934.9V1026.4M667.0 935.1V1022.9M667.5 935.1V1022.9M668.0 933.3V1003.9M668.5 933.3V1002.9M669.0 908.5V1021.6M669.5 909.9V1021.6M670.0 925.2V1049.2M670.5 925.2V1047.9M671.0 925.2V1020.2M671.5 925.2V1020.2M672.0 931.1V1000.7M672.5 932.8V1000.7M673.0 944.7V1000.7M673.5 944.4V1011.8M674.0 944.4V1011.7M674.5 919.3V1011.6M675.0 920.4V1000.3M675.5 937.7V1000.3M676.0 953.2V1025.5M676.5 953.2V1024.0M677.0 953.2V1014.8M677.5 931.1V1014.8M678.0 932.0V1008.3M678.5 954.0V1013.7M679.0 914.4V1012.5M679.5 916.6V1008.3M680.0 941.0V1010.9M680.5 941.0V1010.9M681.0 941.0V1035.4M681.5 941.0V1034.4M682.0 953.2V1029.3M682.5 927.2V1029.3M683.0 928.8V1029.3M683.5 953.2V1029.3M684.0 954.7V1013.7M684.5 915.4V1012.1M685.0 916.1V1016.7M685.5 948.1V1016.7M686.0 948.1V1016.7M686.5 948.1V1016.7M687.0 831.7V1027.1M687.5 832.5V1068.8M688.0 931.4V1066.0M688.5 931.4V1023.1M689.0 931.4V1023.1M689.5 897.6V1072.8M690.0 898.6V1072.2M690.5 953.3V1013.8M691.0 953.3V1013.8M691.5 909.5V1029.3M692.0 910.0V1094.4M692.5 950.4V1091.8M693.0 954.2V1157.0M693.5 954.2V1156.0M694.0 896.7V1013.2M694.5 898.2V1021.0M695.0 945.7V1021.0M695.5 943.6V1037.4M696.0 943.6V1035.1M696.5 943.6V1020.5M697.0 933.1V1020.5M697.5 933.4V1021.6M698.0 954.3V1021.3M698.5 954.3V1016.2M699.0 954.3V1016.2M699.5 931.1V1003.9M700.0 931.3V1000.9M700.5 957.3V1026.7M701.0 957.3V1026.7M701.5 957.3V1026.7M702.0 915.0V1042.3M702.5 915.2V1041.0M703.0 945.8V1014.7M703.5 945.8V1014.7M704.0 953.7V1007.6M704.5 953.7V1079.7M705.0 951.2V1076.8M705.5 951.2V1024.1M706.0 951.2V1024.1M706.5 919.7V1005.6M707.0 920.0V1037.4M707.5 946.1V1036.7M708.0 948.8V1020.7M708.5 948.8V1020.7M709.0 948.8V1053.1M709.5 938.1V1051.9M710.0 938.1V1017.5M710.5 944.4V1001.6M711.0 931.1V1001.6M711.5 933.2V1029.5M712.0 944.4V1027.4M712.5 925.2V1006.5M713.0 925.2V1006.5M713.5 925.2V1006.5M714.0 947.6V1003.9M714.5 947.6V1003.4M715.0 933.5V1010.0M715.5 927.2V1010.0M716.0 927.5V1002.6M716.5 944.0V1044.2M717.0 944.0V1043.4M717.5 939.7V1017.9M718.0 939.7V1017.9M718.5 906.5V1008.2M719.0 907.9V1031.5M719.5 948.6V1029.4M720.0 948.6V1008.2M720.5 942.1V1007.0M721.0 942.1V1007.0M721.5 942.1V1007.0M722.0 942.1V1011.8M722.5 940.3V1008.9M723.0 915.0V1000.4M723.5 917.3V1003.7M724.0 925.2V1003.7M724.5 925.2V1003.7M725.0 939.5V1033.4M725.5 918.3V1032.5M726.0 919.7V1009.0M726.5 950.9V1009.0M727.0 944.7V998.5M727.5 944.7V998.5M728.0 903.2V1017.7M728.5 903.6V1017.1M729.0 942.5V999.6M729.5 942.5V999.6M730.0 942.5V1017.7M730.5 948.5V1016.6M731.0 948.5V1006.1M731.5 948.5V1006.1M732.0 935.0V1074.3M732.5 937.6V1071.4M733.0 949.1V1022.6M733.5 934.2V1003.1M734.0 934.2V1003.1M734.5 915.0V1037.4M735.0 917.6V1036.9M735.5 936.2V1005.1M736.0 936.2V1005.1M736.5 928.1V1006.2M737.0 937.0V1060.0M737.5 937.2V1058.1M738.0 943.2V1014.8M738.5 943.2V1014.8M739.0 946.5V1009.4M739.5 929.1V1047.2M740.0 929.9V1046.1M740.5 944.6V1018.0M741.0 944.6V1018.0M741.5 944.6V1018.0M742.0 909.8V1062.9M742.5 911.4V1061.0M743.0 932.9V1029.3M743.5 932.9V1029.3M744.0 932.9V1068.8M744.5 921.3V1068.2M745.0 923.6V1021.5M745.5 954.9V1021.5" stroke="#000" stroke-width="1.3" fill="none"/>
<line x1="111.0" x2="745.5" y1="1170" y2="1170" stroke="#d8232a" stroke-width="2"/>
<line x1="745.5" x2="745.5" y1="975.9" y2="1170" stroke="#111" stroke-width="1.4"/>
<circle cx="744.3" cy="1167.5" r="15.4" fill="none" stroke="#b5161e" stroke-width="3.1" stroke-dasharray="8.4 3.7" stroke-dashoffset="3"/>
<rect x="111.0" y="815.7" width="634.5" height="373.5" fill="none" stroke="#262626" stroke-width="1.3"/>
<line x1="102.5" x2="111.0" y1="815.7" y2="815.7" stroke="#262626" stroke-width="1.3"/>
<text x="90.8" y="822.7" font-size="20" fill="#161616" textLength="9.2" lengthAdjust="spacingAndGlyphs">6</text>
<line x1="102.5" x2="111.0" y1="869.1" y2="869.1" stroke="#262626" stroke-width="1.3"/>
<text x="90.8" y="876.1" font-size="20" fill="#161616" textLength="9.2" lengthAdjust="spacingAndGlyphs">4</text>
<line x1="102.5" x2="111.0" y1="922.5" y2="922.5" stroke="#262626" stroke-width="1.3"/>
<text x="90.8" y="929.5" font-size="20" fill="#161616" textLength="9.2" lengthAdjust="spacingAndGlyphs">2</text>
<line x1="102.5" x2="111.0" y1="975.9" y2="975.9" stroke="#262626" stroke-width="1.3"/>
<text x="90.8" y="982.9" font-size="20" fill="#161616" textLength="9.2" lengthAdjust="spacingAndGlyphs">0</text>
<line x1="102.5" x2="111.0" y1="1029.3" y2="1029.3" stroke="#262626" stroke-width="1.3"/>
<text x="84.4" y="1036.3" font-size="20" fill="#161616" textLength="15.6" lengthAdjust="spacingAndGlyphs">-2</text>
<line x1="102.5" x2="111.0" y1="1082.7" y2="1082.7" stroke="#262626" stroke-width="1.3"/>
<text x="84.4" y="1089.7" font-size="20" fill="#161616" textLength="15.6" lengthAdjust="spacingAndGlyphs">-4</text>
<line x1="102.5" x2="111.0" y1="1136.1" y2="1136.1" stroke="#262626" stroke-width="1.3"/>
<text x="84.4" y="1143.1" font-size="20" fill="#161616" textLength="15.6" lengthAdjust="spacingAndGlyphs">-6</text>
<line x1="102.5" x2="111.0" y1="1189.5" y2="1189.5" stroke="#262626" stroke-width="1.3"/>
<text x="84.4" y="1196.5" font-size="20" fill="#161616" textLength="15.6" lengthAdjust="spacingAndGlyphs">-8</text>
<line x1="111.0" x2="111.0" y1="1189.2" y2="1197.5" stroke="#262626" stroke-width="1.3"/>
<text x="90.1" y="1218.2" font-size="19.6" fill="#161616" textLength="41.8" lengthAdjust="spacingAndGlyphs">2010</text>
<line x1="194.2" x2="194.2" y1="1189.2" y2="1197.5" stroke="#262626" stroke-width="1.3"/>
<text x="173.3" y="1218.2" font-size="19.6" fill="#161616" textLength="41.8" lengthAdjust="spacingAndGlyphs">2012</text>
<line x1="277.4" x2="277.4" y1="1189.2" y2="1197.5" stroke="#262626" stroke-width="1.3"/>
<text x="256.5" y="1218.2" font-size="19.6" fill="#161616" textLength="41.8" lengthAdjust="spacingAndGlyphs">2014</text>
<line x1="360.6" x2="360.6" y1="1189.2" y2="1197.5" stroke="#262626" stroke-width="1.3"/>
<text x="339.7" y="1218.2" font-size="19.6" fill="#161616" textLength="41.8" lengthAdjust="spacingAndGlyphs">2016</text>
<line x1="443.8" x2="443.8" y1="1189.2" y2="1197.5" stroke="#262626" stroke-width="1.3"/>
<text x="422.9" y="1218.2" font-size="19.6" fill="#161616" textLength="41.8" lengthAdjust="spacingAndGlyphs">2018</text>
<line x1="527.0" x2="527.0" y1="1189.2" y2="1197.5" stroke="#262626" stroke-width="1.3"/>
<text x="506.1" y="1218.2" font-size="19.6" fill="#161616" textLength="41.8" lengthAdjust="spacingAndGlyphs">2020</text>
<line x1="610.2" x2="610.2" y1="1189.2" y2="1197.5" stroke="#262626" stroke-width="1.3"/>
<text x="589.3" y="1218.2" font-size="19.6" fill="#161616" textLength="41.8" lengthAdjust="spacingAndGlyphs">2022</text>
<line x1="693.4" x2="693.4" y1="1189.2" y2="1197.5" stroke="#262626" stroke-width="1.3"/>
<text x="672.5" y="1218.2" font-size="19.6" fill="#161616" textLength="41.8" lengthAdjust="spacingAndGlyphs">2024</text>
<text x="314.1" y="797.7" font-size="20.4" fill="#161616" textLength="227.5" lengthAdjust="spacingAndGlyphs">Prime Book: Global Equities</text>
<text x="84.7" y="1243.2" font-size="19.6" fill="#161616" textLength="346.2" lengthAdjust="spacingAndGlyphs">1-Day Notional Net Trading Flow (Z Score)</text>
<text x="455" y="1243.2" font-size="19.6" fill="#d8232a" textLength="70.1" lengthAdjust="spacingAndGlyphs">April 3rd</text>
</svg>
<svg width="864" height="1528" viewBox="0 0 864 1528"><text x="54.8" y="1323.1" font-size="22.6" fill="#d3d7ee" textLength="168" lengthAdjust="spacingAndGlyphs" style="font-family:'Liberation Sans',sans-serif">Source: Citi, JPM</text></svg>
<svg width="864" height="1528" viewBox="0 0 864 1528" style="font-family:'Liberation Sans',sans-serif">
<defs><linearGradient id="lg" gradientUnits="userSpaceOnUse" x1="291" y1="1450" x2="366" y2="1404">
<stop offset="0" stop-color="#2088ff"/><stop offset="0.5" stop-color="#19c8f2"/><stop offset="1" stop-color="#1fecc0"/></linearGradient></defs>
<path d="M291 1420.7H311.8C322 1420.7 328 1400.2 346 1400.2C356 1400.2 362 1404 365.6 1407.4V1435.1H344.2C335 1435.1 329 1455.7 311.3 1455.7C301 1455.7 295 1452 291 1447.9Z" fill="url(#lg)"/>
<text x="379.7" y="1438.8" font-size="38.5" font-weight="bold" fill="#fff" textLength="194" lengthAdjust="spacingAndGlyphs">SignalPlus</text>
</svg>
</body></html>
